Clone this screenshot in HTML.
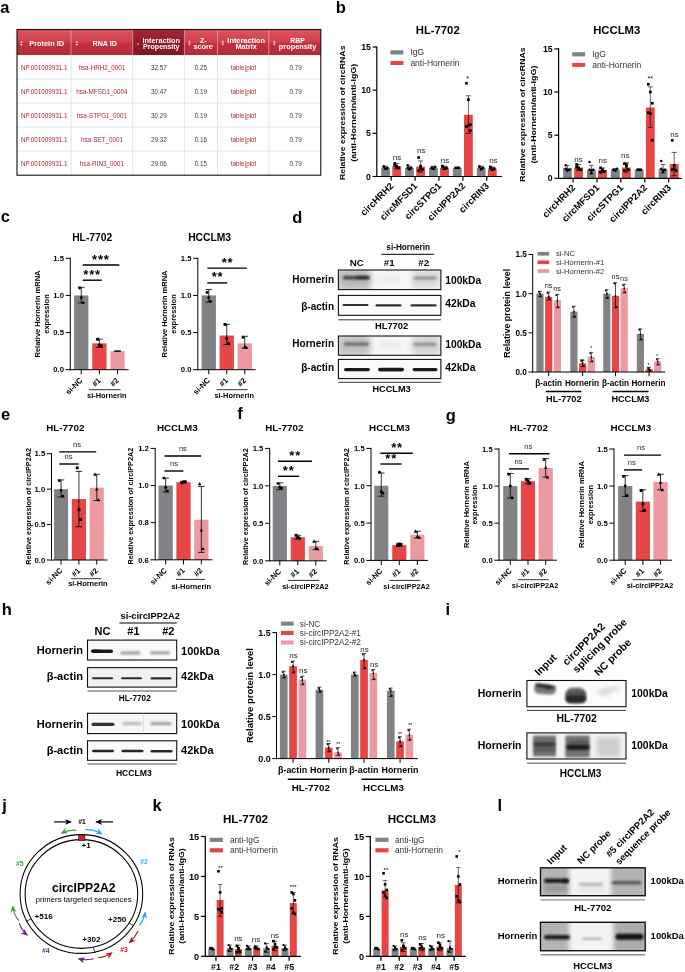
<!DOCTYPE html>
<html lang="en"><head><meta charset="utf-8"><title>Figure</title>
<style>
html,body{margin:0;padding:0;background:#fff}
svg{display:block;font-family:"Liberation Sans",sans-serif}
</style></head>
<body>
<svg width="685" height="972" viewBox="0 0 685 972">
<rect width="685" height="972" fill="#fff"/>
<defs><filter id="b05" x="-20%" y="-100%" width="140%" height="300%"><feGaussianBlur stdDeviation="0.55"/></filter><filter id="b1" x="-30%" y="-100%" width="160%" height="300%"><feGaussianBlur stdDeviation="1.0"/></filter><filter id="b2" x="-40%" y="-100%" width="180%" height="300%"><feGaussianBlur stdDeviation="2.0"/></filter><filter id="b3" x="-50%" y="-100%" width="200%" height="300%"><feGaussianBlur stdDeviation="3.2"/></filter></defs>
<text x="0.20" y="12.60" font-size="16.5" font-weight="bold">a</text>
<defs><linearGradient id="hg" x1="0" y1="0" x2="0" y2="1"><stop offset="0" stop-color="#dc5660"/><stop offset="0.5" stop-color="#cf3f4b"/><stop offset="0.52" stop-color="#c23240"/><stop offset="1" stop-color="#b52a38"/></linearGradient><linearGradient id="hg2" x1="0" y1="0" x2="0" y2="1"><stop offset="0" stop-color="#a32633"/><stop offset="0.5" stop-color="#8f1d29"/><stop offset="1" stop-color="#7f1622"/></linearGradient></defs>
<rect x="17.00" y="29.50" width="303.80" height="25.70" fill="url(#hg)"/>
<rect x="132.70" y="29.50" width="51.70" height="25.70" fill="url(#hg2)"/>
<rect x="17.00" y="55.20" width="303.80" height="120.00" fill="#fff"/>
<line x1="71.00" y1="29.50" x2="71.00" y2="55.20" stroke="#e9a1a7" stroke-width="0.8"/>
<line x1="71.00" y1="55.20" x2="71.00" y2="175.20" stroke="#d3dfea" stroke-width="0.8"/>
<line x1="132.70" y1="29.50" x2="132.70" y2="55.20" stroke="#e9a1a7" stroke-width="0.8"/>
<line x1="132.70" y1="55.20" x2="132.70" y2="175.20" stroke="#d3dfea" stroke-width="0.8"/>
<line x1="184.40" y1="29.50" x2="184.40" y2="55.20" stroke="#e9a1a7" stroke-width="0.8"/>
<line x1="184.40" y1="55.20" x2="184.40" y2="175.20" stroke="#d3dfea" stroke-width="0.8"/>
<line x1="217.50" y1="29.50" x2="217.50" y2="55.20" stroke="#e9a1a7" stroke-width="0.8"/>
<line x1="217.50" y1="55.20" x2="217.50" y2="175.20" stroke="#d3dfea" stroke-width="0.8"/>
<line x1="268.80" y1="29.50" x2="268.80" y2="55.20" stroke="#e9a1a7" stroke-width="0.8"/>
<line x1="268.80" y1="55.20" x2="268.80" y2="175.20" stroke="#d3dfea" stroke-width="0.8"/>
<line x1="17.00" y1="79.20" x2="320.80" y2="79.20" stroke="#d3dfea" stroke-width="0.8"/>
<line x1="17.00" y1="103.20" x2="320.80" y2="103.20" stroke="#d3dfea" stroke-width="0.8"/>
<line x1="17.00" y1="127.20" x2="320.80" y2="127.20" stroke="#d3dfea" stroke-width="0.8"/>
<line x1="17.00" y1="151.20" x2="320.80" y2="151.20" stroke="#d3dfea" stroke-width="0.8"/>
<rect x="17" y="29.5" width="303.8" height="145.70" fill="none" stroke="#111" stroke-width="1.1"/>
<path d="M20.00 43.10L22.80 43.10L21.40 41.10zM20.00 44.10L22.80 44.10L21.40 46.10z" fill="#f6d5d8"/>
<text x="46.70" y="46.00" font-size="7" font-weight="bold" text-anchor="middle" fill="#fff" textLength="34.70" lengthAdjust="spacingAndGlyphs">Protein ID</text>
<path d="M75.40 43.10L78.20 43.10L76.80 41.10zM75.40 44.10L78.20 44.10L76.80 46.10z" fill="#f6d5d8"/>
<text x="104.70" y="46.00" font-size="7" font-weight="bold" text-anchor="middle" fill="#fff" textLength="24.30" lengthAdjust="spacingAndGlyphs">RNA ID</text>
<path d="M136.9 44.6L138.9 44.6L137.9 42.8z" fill="#f6d5d8"/>
<text x="161.30" y="42.50" font-size="7" font-weight="bold" text-anchor="middle" fill="#fff" textLength="37.70" lengthAdjust="spacingAndGlyphs">Interaction</text>
<text x="161.30" y="48.90" font-size="7" font-weight="bold" text-anchor="middle" fill="#fff" textLength="36.50" lengthAdjust="spacingAndGlyphs">Propensity</text>
<path d="M188.00 42.50L190.80 42.50L189.40 40.50zM188.00 43.50L190.80 43.50L189.40 45.50z" fill="#f6d5d8"/>
<text x="203.20" y="42.50" font-size="7" font-weight="bold" text-anchor="middle" fill="#fff">Z-</text>
<text x="203.20" y="48.90" font-size="7" font-weight="bold" text-anchor="middle" fill="#fff" textLength="19.40" lengthAdjust="spacingAndGlyphs">score</text>
<path d="M221.40 42.50L224.20 42.50L222.80 40.50zM221.40 43.50L224.20 43.50L222.80 45.50z" fill="#f6d5d8"/>
<text x="246.20" y="42.50" font-size="7" font-weight="bold" text-anchor="middle" fill="#fff" textLength="37.70" lengthAdjust="spacingAndGlyphs">Interaction</text>
<text x="246.20" y="48.90" font-size="7" font-weight="bold" text-anchor="middle" fill="#fff" textLength="21.50" lengthAdjust="spacingAndGlyphs">Matrix</text>
<path d="M272.90 42.50L275.70 42.50L274.30 40.50zM272.90 43.50L275.70 43.50L274.30 45.50z" fill="#f6d5d8"/>
<text x="297.60" y="42.50" font-size="7" font-weight="bold" text-anchor="middle" fill="#fff" textLength="14.50" lengthAdjust="spacingAndGlyphs">RBP</text>
<text x="297.60" y="48.90" font-size="7" font-weight="bold" text-anchor="middle" fill="#fff" textLength="37.50" lengthAdjust="spacingAndGlyphs">propensity</text>
<text x="44.20" y="69.60" font-size="6.3" text-anchor="middle" fill="#a32a38">NP.001009931.1</text>
<text x="101.90" y="69.60" font-size="6.3" text-anchor="middle" fill="#a32a38">hsa-HRH2_0001</text>
<text x="158.80" y="69.60" font-size="6.3" text-anchor="middle" fill="#3c3c3c">32.57</text>
<text x="201.00" y="69.60" font-size="6.3" text-anchor="middle" fill="#3c3c3c">0.25</text>
<text x="243.60" y="69.60" font-size="6.3" text-anchor="middle" fill="#a32a38">table|plot</text>
<text x="295.60" y="69.60" font-size="6.3" text-anchor="middle" fill="#3c3c3c">0.79</text>
<text x="44.20" y="93.60" font-size="6.3" text-anchor="middle" fill="#a32a38">NP.001009931.1</text>
<text x="101.90" y="93.60" font-size="6.3" text-anchor="middle" fill="#a32a38">hsa-MFSD1_0004</text>
<text x="158.80" y="93.60" font-size="6.3" text-anchor="middle" fill="#3c3c3c">30.47</text>
<text x="201.00" y="93.60" font-size="6.3" text-anchor="middle" fill="#3c3c3c">0.19</text>
<text x="243.60" y="93.60" font-size="6.3" text-anchor="middle" fill="#a32a38">table|plot</text>
<text x="295.60" y="93.60" font-size="6.3" text-anchor="middle" fill="#3c3c3c">0.79</text>
<text x="44.20" y="117.60" font-size="6.3" text-anchor="middle" fill="#a32a38">NP.001009931.1</text>
<text x="101.90" y="117.60" font-size="6.3" text-anchor="middle" fill="#a32a38">hsa-STPG1_0001</text>
<text x="158.80" y="117.60" font-size="6.3" text-anchor="middle" fill="#3c3c3c">30.29</text>
<text x="201.00" y="117.60" font-size="6.3" text-anchor="middle" fill="#3c3c3c">0.19</text>
<text x="243.60" y="117.60" font-size="6.3" text-anchor="middle" fill="#a32a38">table|plot</text>
<text x="295.60" y="117.60" font-size="6.3" text-anchor="middle" fill="#3c3c3c">0.79</text>
<text x="44.20" y="141.60" font-size="6.3" text-anchor="middle" fill="#a32a38">NP.001009931.1</text>
<text x="101.90" y="141.60" font-size="6.3" text-anchor="middle" fill="#a32a38">hsa-SET_0001</text>
<text x="158.80" y="141.60" font-size="6.3" text-anchor="middle" fill="#3c3c3c">29.32</text>
<text x="201.00" y="141.60" font-size="6.3" text-anchor="middle" fill="#3c3c3c">0.16</text>
<text x="243.60" y="141.60" font-size="6.3" text-anchor="middle" fill="#a32a38">table|plot</text>
<text x="295.60" y="141.60" font-size="6.3" text-anchor="middle" fill="#3c3c3c">0.79</text>
<text x="44.20" y="165.60" font-size="6.3" text-anchor="middle" fill="#a32a38">NP.001009931.1</text>
<text x="101.90" y="165.60" font-size="6.3" text-anchor="middle" fill="#a32a38">hsa-RIN3_0001</text>
<text x="158.80" y="165.60" font-size="6.3" text-anchor="middle" fill="#3c3c3c">29.06</text>
<text x="201.00" y="165.60" font-size="6.3" text-anchor="middle" fill="#3c3c3c">0.15</text>
<text x="243.60" y="165.60" font-size="6.3" text-anchor="middle" fill="#a32a38">table|plot</text>
<text x="295.60" y="165.60" font-size="6.3" text-anchor="middle" fill="#3c3c3c">0.79</text>
<text x="335.80" y="13.20" font-size="16.5" font-weight="bold">b</text>
<text x="437.70" y="33.60" font-size="11.3" font-weight="bold" text-anchor="middle">HL-7702</text>
<rect x="381.20" y="167.87" width="8.80" height="8.63" fill="#808285"/>
<rect x="392.30" y="166.14" width="8.80" height="10.36" fill="#e64646"/>
<rect x="405.10" y="167.87" width="8.80" height="8.63" fill="#808285"/>
<rect x="416.20" y="166.57" width="8.80" height="9.93" fill="#e64646"/>
<rect x="429.00" y="167.87" width="8.80" height="8.63" fill="#808285"/>
<rect x="440.10" y="167.87" width="8.80" height="8.63" fill="#e64646"/>
<rect x="452.90" y="167.87" width="8.80" height="8.63" fill="#808285"/>
<rect x="464.00" y="114.77" width="8.80" height="61.73" fill="#e64646"/>
<rect x="476.80" y="167.87" width="8.80" height="8.63" fill="#808285"/>
<rect x="487.90" y="168.73" width="8.80" height="7.77" fill="#e64646"/>
<line x1="385.60" y1="169.59" x2="385.60" y2="166.14" stroke="#000" stroke-width="0.6"/>
<line x1="383.40" y1="166.14" x2="387.80" y2="166.14" stroke="#000" stroke-width="0.6"/>
<line x1="383.40" y1="169.59" x2="387.80" y2="169.59" stroke="#000" stroke-width="0.6"/>
<line x1="396.70" y1="168.73" x2="396.70" y2="163.55" stroke="#000" stroke-width="0.6"/>
<line x1="394.10" y1="163.55" x2="399.30" y2="163.55" stroke="#000" stroke-width="0.6"/>
<line x1="394.10" y1="168.73" x2="399.30" y2="168.73" stroke="#000" stroke-width="0.6"/>
<circle cx="383.78" cy="166.14" r="1.25"/>
<circle cx="385.60" cy="168.73" r="1.25"/>
<circle cx="387.42" cy="167.87" r="1.25"/>
<circle cx="383.78" cy="167.00" r="1.25"/>
<circle cx="385.60" cy="168.73" r="1.25"/>
<rect x="393.39" y="162.20" width="2.7" height="2.7"/>
<rect x="395.35" y="164.79" width="2.7" height="2.7"/>
<rect x="397.31" y="166.52" width="2.7" height="2.7"/>
<rect x="393.39" y="163.93" width="2.7" height="2.7"/>
<rect x="395.35" y="165.65" width="2.7" height="2.7"/>
<line x1="409.50" y1="169.59" x2="409.50" y2="166.14" stroke="#000" stroke-width="0.6"/>
<line x1="407.30" y1="166.14" x2="411.70" y2="166.14" stroke="#000" stroke-width="0.6"/>
<line x1="407.30" y1="169.59" x2="411.70" y2="169.59" stroke="#000" stroke-width="0.6"/>
<line x1="420.60" y1="172.18" x2="420.60" y2="160.96" stroke="#000" stroke-width="0.6"/>
<line x1="418.00" y1="160.96" x2="423.20" y2="160.96" stroke="#000" stroke-width="0.6"/>
<line x1="418.00" y1="172.18" x2="423.20" y2="172.18" stroke="#000" stroke-width="0.6"/>
<circle cx="407.68" cy="165.28" r="1.25"/>
<circle cx="409.50" cy="168.73" r="1.25"/>
<circle cx="411.32" cy="167.87" r="1.25"/>
<circle cx="407.68" cy="167.87" r="1.25"/>
<circle cx="409.50" cy="169.59" r="1.25"/>
<rect x="417.29" y="156.16" width="2.7" height="2.7"/>
<rect x="419.25" y="164.79" width="2.7" height="2.7"/>
<rect x="421.21" y="168.24" width="2.7" height="2.7"/>
<rect x="417.29" y="169.11" width="2.7" height="2.7"/>
<rect x="419.25" y="166.52" width="2.7" height="2.7"/>
<line x1="433.40" y1="169.59" x2="433.40" y2="166.14" stroke="#000" stroke-width="0.6"/>
<line x1="431.20" y1="166.14" x2="435.60" y2="166.14" stroke="#000" stroke-width="0.6"/>
<line x1="431.20" y1="169.59" x2="435.60" y2="169.59" stroke="#000" stroke-width="0.6"/>
<line x1="444.50" y1="169.59" x2="444.50" y2="166.14" stroke="#000" stroke-width="0.6"/>
<line x1="441.90" y1="166.14" x2="447.10" y2="166.14" stroke="#000" stroke-width="0.6"/>
<line x1="441.90" y1="169.59" x2="447.10" y2="169.59" stroke="#000" stroke-width="0.6"/>
<circle cx="431.58" cy="167.87" r="1.25"/>
<circle cx="433.40" cy="168.73" r="1.25"/>
<circle cx="435.22" cy="167.00" r="1.25"/>
<circle cx="431.58" cy="167.87" r="1.25"/>
<rect x="441.19" y="164.79" width="2.7" height="2.7"/>
<rect x="443.15" y="167.38" width="2.7" height="2.7"/>
<rect x="445.11" y="166.52" width="2.7" height="2.7"/>
<rect x="441.19" y="165.65" width="2.7" height="2.7"/>
<line x1="457.30" y1="168.56" x2="457.30" y2="167.18" stroke="#000" stroke-width="0.6"/>
<line x1="455.10" y1="167.18" x2="459.50" y2="167.18" stroke="#000" stroke-width="0.6"/>
<line x1="455.10" y1="168.56" x2="459.50" y2="168.56" stroke="#000" stroke-width="0.6"/>
<line x1="468.40" y1="133.33" x2="468.40" y2="95.78" stroke="#000" stroke-width="0.6"/>
<line x1="465.80" y1="95.78" x2="471.00" y2="95.78" stroke="#000" stroke-width="0.6"/>
<line x1="465.80" y1="133.33" x2="471.00" y2="133.33" stroke="#000" stroke-width="0.6"/>
<circle cx="455.48" cy="167.87" r="1.25"/>
<circle cx="457.30" cy="167.87" r="1.25"/>
<circle cx="459.12" cy="167.87" r="1.25"/>
<rect x="465.09" y="81.91" width="2.7" height="2.7"/>
<rect x="467.05" y="98.31" width="2.7" height="2.7"/>
<rect x="469.01" y="123.35" width="2.7" height="2.7"/>
<rect x="465.09" y="125.08" width="2.7" height="2.7"/>
<rect x="467.05" y="124.21" width="2.7" height="2.7"/>
<rect x="469.01" y="129.39" width="2.7" height="2.7"/>
<line x1="481.20" y1="169.59" x2="481.20" y2="166.14" stroke="#000" stroke-width="0.6"/>
<line x1="479.00" y1="166.14" x2="483.40" y2="166.14" stroke="#000" stroke-width="0.6"/>
<line x1="479.00" y1="169.59" x2="483.40" y2="169.59" stroke="#000" stroke-width="0.6"/>
<line x1="492.30" y1="170.46" x2="492.30" y2="167.00" stroke="#000" stroke-width="0.6"/>
<line x1="489.70" y1="167.00" x2="494.90" y2="167.00" stroke="#000" stroke-width="0.6"/>
<line x1="489.70" y1="170.46" x2="494.90" y2="170.46" stroke="#000" stroke-width="0.6"/>
<circle cx="479.38" cy="166.14" r="1.25"/>
<circle cx="481.20" cy="169.59" r="1.25"/>
<circle cx="483.02" cy="167.87" r="1.25"/>
<circle cx="479.38" cy="167.00" r="1.25"/>
<circle cx="481.20" cy="168.73" r="1.25"/>
<rect x="488.99" y="166.52" width="2.7" height="2.7"/>
<rect x="490.95" y="168.24" width="2.7" height="2.7"/>
<rect x="492.91" y="167.38" width="2.7" height="2.7"/>
<rect x="488.99" y="165.65" width="2.7" height="2.7"/>
<line x1="376.80" y1="46.40" x2="376.80" y2="177.10" stroke="#000" stroke-width="1.2"/>
<line x1="376.20" y1="176.50" x2="502.00" y2="176.50" stroke="#000" stroke-width="1.2"/>
<line x1="372.60" y1="47.00" x2="376.80" y2="47.00" stroke="#000" stroke-width="1.2"/>
<text x="370.90" y="50.13" font-size="8.7" font-weight="bold" text-anchor="end">15</text>
<line x1="372.60" y1="90.17" x2="376.80" y2="90.17" stroke="#000" stroke-width="1.2"/>
<text x="370.90" y="93.30" font-size="8.7" font-weight="bold" text-anchor="end">10</text>
<line x1="372.60" y1="133.33" x2="376.80" y2="133.33" stroke="#000" stroke-width="1.2"/>
<text x="370.90" y="136.47" font-size="8.7" font-weight="bold" text-anchor="end">5</text>
<line x1="372.60" y1="176.50" x2="376.80" y2="176.50" stroke="#000" stroke-width="1.2"/>
<text x="370.90" y="179.63" font-size="8.7" font-weight="bold" text-anchor="end">0</text>
<line x1="391.15" y1="176.50" x2="391.15" y2="180.70" stroke="#000" stroke-width="1.2"/>
<line x1="415.05" y1="176.50" x2="415.05" y2="180.70" stroke="#000" stroke-width="1.2"/>
<line x1="438.95" y1="176.50" x2="438.95" y2="180.70" stroke="#000" stroke-width="1.2"/>
<line x1="462.85" y1="176.50" x2="462.85" y2="180.70" stroke="#000" stroke-width="1.2"/>
<line x1="486.75" y1="176.50" x2="486.75" y2="180.70" stroke="#000" stroke-width="1.2"/>
<text x="394.15" y="186.50" font-size="9.4" font-weight="bold" text-anchor="end" transform="rotate(-45 394.15 186.50)">circHRH2</text>
<text x="418.05" y="186.50" font-size="9.4" font-weight="bold" text-anchor="end" transform="rotate(-45 418.05 186.50)">circMFSD1</text>
<text x="441.95" y="186.50" font-size="9.4" font-weight="bold" text-anchor="end" transform="rotate(-45 441.95 186.50)">circSTPG1</text>
<text x="465.85" y="186.50" font-size="9.4" font-weight="bold" text-anchor="end" transform="rotate(-45 465.85 186.50)">circIPP2A2</text>
<text x="489.75" y="186.50" font-size="9.4" font-weight="bold" text-anchor="end" transform="rotate(-45 489.75 186.50)">circRIN3</text>
<text x="397.00" y="160.00" font-size="8.0" text-anchor="middle" fill="#262626">ns</text>
<text x="421.20" y="153.30" font-size="8.0" text-anchor="middle" fill="#262626">ns</text>
<text x="445.00" y="162.50" font-size="8.0" text-anchor="middle" fill="#262626">ns</text>
<text x="493.40" y="163.00" font-size="8.0" text-anchor="middle" fill="#262626">ns</text>
<text x="467.50" y="80.50" font-size="7" text-anchor="middle">*</text>
<text x="345.30" y="112.75" font-size="7.7" font-weight="bold" text-anchor="middle" transform="rotate(-90 345.30 112.75)" textLength="134.50" lengthAdjust="spacingAndGlyphs">Relative expression of circRNAs</text>
<text x="356.20" y="112.75" font-size="7.7" font-weight="bold" text-anchor="middle" transform="rotate(-90 356.20 112.75)" textLength="98.00" lengthAdjust="spacingAndGlyphs">(anti-Hornerin/anti-IgG)</text>
<rect x="390.40" y="50.30" width="13.00" height="4.20" fill="#808285"/>
<rect x="390.40" y="61.00" width="13.00" height="4.00" fill="#e64646"/>
<text x="410.40" y="55.20" font-size="8.5" fill="#333">IgG</text>
<text x="410.40" y="65.80" font-size="8.5" fill="#333">anti-Hornerin</text>
<text x="616.70" y="33.60" font-size="11.3" font-weight="bold" text-anchor="middle">HCCLM3</text>
<rect x="563.10" y="167.95" width="8.80" height="10.35" fill="#808285"/>
<rect x="574.20" y="167.52" width="8.80" height="10.78" fill="#e64646"/>
<rect x="587.00" y="169.67" width="8.80" height="8.63" fill="#808285"/>
<rect x="598.10" y="170.10" width="8.80" height="8.20" fill="#e64646"/>
<rect x="610.90" y="169.67" width="8.80" height="8.63" fill="#808285"/>
<rect x="622.00" y="167.52" width="8.80" height="10.78" fill="#e64646"/>
<rect x="634.80" y="169.67" width="8.80" height="8.63" fill="#808285"/>
<rect x="645.90" y="107.56" width="8.80" height="70.74" fill="#e64646"/>
<rect x="658.70" y="168.81" width="8.80" height="9.49" fill="#808285"/>
<rect x="669.80" y="164.07" width="8.80" height="14.23" fill="#e64646"/>
<line x1="567.50" y1="170.54" x2="567.50" y2="165.36" stroke="#000" stroke-width="0.6"/>
<line x1="565.30" y1="165.36" x2="569.70" y2="165.36" stroke="#000" stroke-width="0.6"/>
<line x1="565.30" y1="170.54" x2="569.70" y2="170.54" stroke="#000" stroke-width="0.6"/>
<line x1="578.60" y1="170.54" x2="578.60" y2="164.50" stroke="#000" stroke-width="0.6"/>
<line x1="576.00" y1="164.50" x2="581.20" y2="164.50" stroke="#000" stroke-width="0.6"/>
<line x1="576.00" y1="170.54" x2="581.20" y2="170.54" stroke="#000" stroke-width="0.6"/>
<circle cx="565.68" cy="165.36" r="1.25"/>
<circle cx="567.50" cy="170.54" r="1.25"/>
<circle cx="569.32" cy="169.67" r="1.25"/>
<circle cx="565.68" cy="168.81" r="1.25"/>
<circle cx="567.50" cy="170.54" r="1.25"/>
<rect x="575.29" y="163.15" width="2.7" height="2.7"/>
<rect x="577.25" y="166.60" width="2.7" height="2.7"/>
<rect x="579.21" y="168.32" width="2.7" height="2.7"/>
<rect x="575.29" y="165.74" width="2.7" height="2.7"/>
<rect x="577.25" y="167.46" width="2.7" height="2.7"/>
<line x1="591.40" y1="173.99" x2="591.40" y2="165.36" stroke="#000" stroke-width="0.6"/>
<line x1="589.20" y1="165.36" x2="593.60" y2="165.36" stroke="#000" stroke-width="0.6"/>
<line x1="589.20" y1="173.99" x2="593.60" y2="173.99" stroke="#000" stroke-width="0.6"/>
<line x1="602.50" y1="172.26" x2="602.50" y2="167.95" stroke="#000" stroke-width="0.6"/>
<line x1="599.90" y1="167.95" x2="605.10" y2="167.95" stroke="#000" stroke-width="0.6"/>
<line x1="599.90" y1="172.26" x2="605.10" y2="172.26" stroke="#000" stroke-width="0.6"/>
<circle cx="589.58" cy="161.91" r="1.25"/>
<circle cx="591.40" cy="170.54" r="1.25"/>
<circle cx="593.22" cy="169.67" r="1.25"/>
<circle cx="589.58" cy="169.67" r="1.25"/>
<circle cx="591.40" cy="173.12" r="1.25"/>
<rect x="599.19" y="166.60" width="2.7" height="2.7"/>
<rect x="601.15" y="169.19" width="2.7" height="2.7"/>
<rect x="603.11" y="170.05" width="2.7" height="2.7"/>
<rect x="599.19" y="170.91" width="2.7" height="2.7"/>
<rect x="601.15" y="168.32" width="2.7" height="2.7"/>
<line x1="615.30" y1="170.97" x2="615.30" y2="168.38" stroke="#000" stroke-width="0.6"/>
<line x1="613.10" y1="168.38" x2="617.50" y2="168.38" stroke="#000" stroke-width="0.6"/>
<line x1="613.10" y1="170.97" x2="617.50" y2="170.97" stroke="#000" stroke-width="0.6"/>
<line x1="626.40" y1="172.26" x2="626.40" y2="162.77" stroke="#000" stroke-width="0.6"/>
<line x1="623.80" y1="162.77" x2="629.00" y2="162.77" stroke="#000" stroke-width="0.6"/>
<line x1="623.80" y1="172.26" x2="629.00" y2="172.26" stroke="#000" stroke-width="0.6"/>
<circle cx="613.48" cy="169.67" r="1.25"/>
<circle cx="615.30" cy="170.54" r="1.25"/>
<circle cx="617.12" cy="168.81" r="1.25"/>
<circle cx="613.48" cy="169.67" r="1.25"/>
<rect x="623.09" y="162.28" width="2.7" height="2.7"/>
<rect x="625.05" y="164.87" width="2.7" height="2.7"/>
<rect x="627.01" y="168.32" width="2.7" height="2.7"/>
<rect x="623.09" y="169.19" width="2.7" height="2.7"/>
<rect x="625.05" y="163.15" width="2.7" height="2.7"/>
<line x1="639.20" y1="170.54" x2="639.20" y2="168.81" stroke="#000" stroke-width="0.6"/>
<line x1="637.00" y1="168.81" x2="641.40" y2="168.81" stroke="#000" stroke-width="0.6"/>
<line x1="637.00" y1="170.54" x2="641.40" y2="170.54" stroke="#000" stroke-width="0.6"/>
<line x1="650.30" y1="127.40" x2="650.30" y2="86.86" stroke="#000" stroke-width="0.6"/>
<line x1="647.70" y1="86.86" x2="652.90" y2="86.86" stroke="#000" stroke-width="0.6"/>
<line x1="647.70" y1="127.40" x2="652.90" y2="127.40" stroke="#000" stroke-width="0.6"/>
<circle cx="637.38" cy="169.67" r="1.25"/>
<circle cx="639.20" cy="169.67" r="1.25"/>
<circle cx="641.02" cy="169.67" r="1.25"/>
<rect x="646.99" y="82.92" width="2.7" height="2.7"/>
<rect x="648.95" y="90.68" width="2.7" height="2.7"/>
<rect x="650.91" y="101.90" width="2.7" height="2.7"/>
<rect x="646.99" y="111.39" width="2.7" height="2.7"/>
<rect x="648.95" y="112.25" width="2.7" height="2.7"/>
<rect x="650.91" y="138.99" width="2.7" height="2.7"/>
<line x1="663.10" y1="173.12" x2="663.10" y2="164.50" stroke="#000" stroke-width="0.6"/>
<line x1="660.90" y1="164.50" x2="665.30" y2="164.50" stroke="#000" stroke-width="0.6"/>
<line x1="660.90" y1="173.12" x2="665.30" y2="173.12" stroke="#000" stroke-width="0.6"/>
<line x1="674.20" y1="175.71" x2="674.20" y2="152.42" stroke="#000" stroke-width="0.6"/>
<line x1="671.60" y1="152.42" x2="676.80" y2="152.42" stroke="#000" stroke-width="0.6"/>
<line x1="671.60" y1="175.71" x2="676.80" y2="175.71" stroke="#000" stroke-width="0.6"/>
<circle cx="661.28" cy="161.05" r="1.25"/>
<circle cx="663.10" cy="171.40" r="1.25"/>
<circle cx="664.92" cy="169.67" r="1.25"/>
<circle cx="661.28" cy="168.81" r="1.25"/>
<circle cx="663.10" cy="170.54" r="1.25"/>
<rect x="670.89" y="138.99" width="2.7" height="2.7"/>
<rect x="672.85" y="164.01" width="2.7" height="2.7"/>
<rect x="674.81" y="169.19" width="2.7" height="2.7"/>
<rect x="670.89" y="168.32" width="2.7" height="2.7"/>
<rect x="672.85" y="167.46" width="2.7" height="2.7"/>
<line x1="558.60" y1="48.30" x2="558.60" y2="178.90" stroke="#000" stroke-width="1.2"/>
<line x1="558.00" y1="178.30" x2="681.60" y2="178.30" stroke="#000" stroke-width="1.2"/>
<line x1="554.40" y1="48.90" x2="558.60" y2="48.90" stroke="#000" stroke-width="1.2"/>
<text x="552.70" y="52.03" font-size="8.7" font-weight="bold" text-anchor="end">15</text>
<line x1="554.40" y1="92.03" x2="558.60" y2="92.03" stroke="#000" stroke-width="1.2"/>
<text x="552.70" y="95.17" font-size="8.7" font-weight="bold" text-anchor="end">10</text>
<line x1="554.40" y1="135.17" x2="558.60" y2="135.17" stroke="#000" stroke-width="1.2"/>
<text x="552.70" y="138.30" font-size="8.7" font-weight="bold" text-anchor="end">5</text>
<line x1="554.40" y1="178.30" x2="558.60" y2="178.30" stroke="#000" stroke-width="1.2"/>
<text x="552.70" y="181.43" font-size="8.7" font-weight="bold" text-anchor="end">0</text>
<line x1="573.05" y1="178.30" x2="573.05" y2="182.50" stroke="#000" stroke-width="1.2"/>
<line x1="596.95" y1="178.30" x2="596.95" y2="182.50" stroke="#000" stroke-width="1.2"/>
<line x1="620.85" y1="178.30" x2="620.85" y2="182.50" stroke="#000" stroke-width="1.2"/>
<line x1="644.75" y1="178.30" x2="644.75" y2="182.50" stroke="#000" stroke-width="1.2"/>
<line x1="668.65" y1="178.30" x2="668.65" y2="182.50" stroke="#000" stroke-width="1.2"/>
<text x="576.05" y="188.30" font-size="9.4" font-weight="bold" text-anchor="end" transform="rotate(-45 576.05 188.30)">circHRH2</text>
<text x="599.95" y="188.30" font-size="9.4" font-weight="bold" text-anchor="end" transform="rotate(-45 599.95 188.30)">circMFSD1</text>
<text x="623.85" y="188.30" font-size="9.4" font-weight="bold" text-anchor="end" transform="rotate(-45 623.85 188.30)">circSTPG1</text>
<text x="647.75" y="188.30" font-size="9.4" font-weight="bold" text-anchor="end" transform="rotate(-45 647.75 188.30)">circIPP2A2</text>
<text x="671.65" y="188.30" font-size="9.4" font-weight="bold" text-anchor="end" transform="rotate(-45 671.65 188.30)">circRIN3</text>
<text x="578.60" y="161.70" font-size="8.0" text-anchor="middle" fill="#262626">ns</text>
<text x="602.70" y="163.00" font-size="8.0" text-anchor="middle" fill="#262626">ns</text>
<text x="625.30" y="158.30" font-size="8.0" text-anchor="middle" fill="#262626">ns</text>
<text x="674.50" y="136.80" font-size="8.0" text-anchor="middle" fill="#262626">ns</text>
<text x="650.30" y="80.50" font-size="7" text-anchor="middle">**</text>
<text x="525.30" y="114.60" font-size="7.7" font-weight="bold" text-anchor="middle" transform="rotate(-90 525.30 114.60)" textLength="134.50" lengthAdjust="spacingAndGlyphs">Relative expression of circRNAs</text>
<text x="536.20" y="114.60" font-size="7.7" font-weight="bold" text-anchor="middle" transform="rotate(-90 536.20 114.60)" textLength="98.00" lengthAdjust="spacingAndGlyphs">(anti-Hornerin/anti-IgG)</text>
<rect x="572.20" y="52.20" width="13.00" height="4.20" fill="#808285"/>
<rect x="572.20" y="62.90" width="13.00" height="4.00" fill="#e64646"/>
<text x="592.20" y="57.10" font-size="8.5" fill="#333">IgG</text>
<text x="592.20" y="67.70" font-size="8.5" fill="#333">anti-Hornerin</text>
<text x="0.80" y="222.00" font-size="16.5" font-weight="bold">c</text>
<text x="92.20" y="241.40" font-size="10.3" font-weight="bold" text-anchor="middle">HL-7702</text>
<rect x="74.10" y="295.43" width="14.30" height="74.27" fill="#808285"/>
<rect x="92.25" y="343.34" width="14.30" height="26.36" fill="#e64646"/>
<rect x="110.40" y="351.13" width="14.30" height="18.57" fill="#ec99a0"/>
<line x1="81.25" y1="302.86" x2="81.25" y2="287.26" stroke="#000" stroke-width="0.8"/>
<line x1="77.95" y1="287.26" x2="84.55" y2="287.26" stroke="#000" stroke-width="0.8"/>
<line x1="77.95" y1="302.86" x2="84.55" y2="302.86" stroke="#000" stroke-width="0.8"/>
<circle cx="79.57" cy="288.01" r="1.45"/>
<circle cx="81.25" cy="297.66" r="1.45"/>
<circle cx="82.93" cy="302.86" r="1.45"/>
<line x1="99.40" y1="347.42" x2="99.40" y2="339.25" stroke="#000" stroke-width="0.8"/>
<line x1="96.10" y1="339.25" x2="102.70" y2="339.25" stroke="#000" stroke-width="0.8"/>
<line x1="96.10" y1="347.42" x2="102.70" y2="347.42" stroke="#000" stroke-width="0.8"/>
<rect x="96.27" y="337.80" width="2.9" height="2.9"/>
<rect x="97.95" y="343.74" width="2.9" height="2.9"/>
<rect x="99.63" y="344.48" width="2.9" height="2.9"/>
<line x1="117.55" y1="351.50" x2="117.55" y2="350.76" stroke="#000" stroke-width="0.8"/>
<line x1="114.25" y1="350.76" x2="120.85" y2="350.76" stroke="#000" stroke-width="0.8"/>
<line x1="114.25" y1="351.50" x2="120.85" y2="351.50" stroke="#000" stroke-width="0.8"/>
<line x1="70.30" y1="257.80" x2="70.30" y2="370.20" stroke="#000" stroke-width="1.0"/>
<line x1="69.80" y1="369.70" x2="128.60" y2="369.70" stroke="#000" stroke-width="1.0"/>
<line x1="65.70" y1="258.30" x2="70.30" y2="258.30" stroke="#000" stroke-width="1.0"/>
<text x="64.00" y="261.07" font-size="7.7" font-weight="bold" text-anchor="end">1.5</text>
<line x1="65.70" y1="295.43" x2="70.30" y2="295.43" stroke="#000" stroke-width="1.0"/>
<text x="64.00" y="298.21" font-size="7.7" font-weight="bold" text-anchor="end">1.0</text>
<line x1="65.70" y1="332.57" x2="70.30" y2="332.57" stroke="#000" stroke-width="1.0"/>
<text x="64.00" y="335.34" font-size="7.7" font-weight="bold" text-anchor="end">0.5</text>
<line x1="65.70" y1="369.70" x2="70.30" y2="369.70" stroke="#000" stroke-width="1.0"/>
<text x="64.00" y="372.47" font-size="7.7" font-weight="bold" text-anchor="end">0.0</text>
<line x1="81.25" y1="369.70" x2="81.25" y2="374.30" stroke="#000" stroke-width="1.0"/>
<line x1="99.40" y1="369.70" x2="99.40" y2="374.30" stroke="#000" stroke-width="1.0"/>
<line x1="117.55" y1="369.70" x2="117.55" y2="374.30" stroke="#000" stroke-width="1.0"/>
<text x="83.05" y="380.90" font-size="7.7" font-weight="bold" text-anchor="end" transform="rotate(-45 83.05 380.90)">si-NC</text>
<text x="101.20" y="380.90" font-size="7.7" font-weight="bold" text-anchor="end" transform="rotate(-45 101.20 380.90)">#1</text>
<text x="119.35" y="380.90" font-size="7.7" font-weight="bold" text-anchor="end" transform="rotate(-45 119.35 380.90)">#2</text>
<line x1="89.20" y1="389.70" x2="120.60" y2="389.70" stroke="#000" stroke-width="0.8"/>
<text x="106.80" y="398.00" font-size="7.4" font-weight="bold" text-anchor="middle" textLength="39.50" lengthAdjust="spacingAndGlyphs">si-Hornerin</text>
<text x="39.70" y="314.00" font-size="7.0" font-weight="bold" text-anchor="middle" transform="rotate(-90 39.70 314.00)" textLength="86.90" lengthAdjust="spacingAndGlyphs">Relative Hornerin mRNA</text>
<text x="48.70" y="314.00" font-size="7.0" font-weight="bold" text-anchor="middle" transform="rotate(-90 48.70 314.00)" textLength="39.50" lengthAdjust="spacingAndGlyphs">expression</text>
<line x1="82.70" y1="265.00" x2="119.30" y2="265.00" stroke="#000" stroke-width="1.4"/>
<text x="100.90" y="263.50" font-size="13.0" font-weight="bold" text-anchor="middle" letter-spacing="0.8">***</text>
<line x1="82.70" y1="280.20" x2="101.80" y2="280.20" stroke="#000" stroke-width="1.4"/>
<text x="92.10" y="278.60" font-size="13.0" font-weight="bold" text-anchor="middle" letter-spacing="0.8">***</text>
<text x="209.60" y="241.40" font-size="10.3" font-weight="bold" text-anchor="middle">HCCLM3</text>
<rect x="201.60" y="295.43" width="14.30" height="74.27" fill="#808285"/>
<rect x="219.60" y="335.54" width="14.30" height="34.16" fill="#e64646"/>
<rect x="237.60" y="343.34" width="14.30" height="26.36" fill="#ec99a0"/>
<line x1="208.75" y1="302.12" x2="208.75" y2="289.49" stroke="#000" stroke-width="0.8"/>
<line x1="205.45" y1="289.49" x2="212.05" y2="289.49" stroke="#000" stroke-width="0.8"/>
<line x1="205.45" y1="302.12" x2="212.05" y2="302.12" stroke="#000" stroke-width="0.8"/>
<circle cx="207.07" cy="292.46" r="1.45"/>
<circle cx="208.75" cy="297.66" r="1.45"/>
<circle cx="210.43" cy="301.37" r="1.45"/>
<line x1="226.75" y1="344.45" x2="226.75" y2="324.40" stroke="#000" stroke-width="0.8"/>
<line x1="223.45" y1="324.40" x2="230.05" y2="324.40" stroke="#000" stroke-width="0.8"/>
<line x1="223.45" y1="344.45" x2="230.05" y2="344.45" stroke="#000" stroke-width="0.8"/>
<rect x="223.62" y="322.95" width="2.9" height="2.9"/>
<rect x="225.30" y="337.06" width="2.9" height="2.9"/>
<rect x="226.98" y="342.26" width="2.9" height="2.9"/>
<line x1="244.75" y1="348.16" x2="244.75" y2="336.28" stroke="#000" stroke-width="0.8"/>
<line x1="241.45" y1="336.28" x2="248.05" y2="336.28" stroke="#000" stroke-width="0.8"/>
<line x1="241.45" y1="348.16" x2="248.05" y2="348.16" stroke="#000" stroke-width="0.8"/>
<path d="M241.33 338.47L244.81 338.47L243.07 335.28z"/>
<path d="M243.01 348.13L246.49 348.13L244.75 344.94z"/>
<path d="M244.69 348.87L248.17 348.87L246.43 345.68z"/>
<line x1="197.80" y1="257.80" x2="197.80" y2="370.20" stroke="#000" stroke-width="1.0"/>
<line x1="197.30" y1="369.70" x2="255.60" y2="369.70" stroke="#000" stroke-width="1.0"/>
<line x1="193.20" y1="258.30" x2="197.80" y2="258.30" stroke="#000" stroke-width="1.0"/>
<text x="191.50" y="261.07" font-size="7.7" font-weight="bold" text-anchor="end">1.5</text>
<line x1="193.20" y1="295.43" x2="197.80" y2="295.43" stroke="#000" stroke-width="1.0"/>
<text x="191.50" y="298.21" font-size="7.7" font-weight="bold" text-anchor="end">1.0</text>
<line x1="193.20" y1="332.57" x2="197.80" y2="332.57" stroke="#000" stroke-width="1.0"/>
<text x="191.50" y="335.34" font-size="7.7" font-weight="bold" text-anchor="end">0.5</text>
<line x1="193.20" y1="369.70" x2="197.80" y2="369.70" stroke="#000" stroke-width="1.0"/>
<text x="191.50" y="372.47" font-size="7.7" font-weight="bold" text-anchor="end">0.0</text>
<line x1="208.75" y1="369.70" x2="208.75" y2="374.30" stroke="#000" stroke-width="1.0"/>
<line x1="226.75" y1="369.70" x2="226.75" y2="374.30" stroke="#000" stroke-width="1.0"/>
<line x1="244.75" y1="369.70" x2="244.75" y2="374.30" stroke="#000" stroke-width="1.0"/>
<text x="210.55" y="380.90" font-size="7.7" font-weight="bold" text-anchor="end" transform="rotate(-45 210.55 380.90)">si-NC</text>
<text x="228.55" y="380.90" font-size="7.7" font-weight="bold" text-anchor="end" transform="rotate(-45 228.55 380.90)">#1</text>
<text x="246.55" y="380.90" font-size="7.7" font-weight="bold" text-anchor="end" transform="rotate(-45 246.55 380.90)">#2</text>
<line x1="216.60" y1="389.70" x2="247.50" y2="389.70" stroke="#000" stroke-width="0.8"/>
<text x="234.20" y="398.00" font-size="7.4" font-weight="bold" text-anchor="middle" textLength="39.50" lengthAdjust="spacingAndGlyphs">si-Hornerin</text>
<text x="167.10" y="314.00" font-size="7.0" font-weight="bold" text-anchor="middle" transform="rotate(-90 167.10 314.00)" textLength="86.90" lengthAdjust="spacingAndGlyphs">Relative Hornerin mRNA</text>
<text x="175.90" y="314.00" font-size="7.0" font-weight="bold" text-anchor="middle" transform="rotate(-90 175.90 314.00)" textLength="39.50" lengthAdjust="spacingAndGlyphs">expression</text>
<line x1="207.30" y1="268.10" x2="246.80" y2="268.10" stroke="#000" stroke-width="1.4"/>
<text x="227.60" y="266.80" font-size="13.0" font-weight="bold" text-anchor="middle" letter-spacing="0.8">**</text>
<line x1="207.30" y1="282.90" x2="227.20" y2="282.90" stroke="#000" stroke-width="1.4"/>
<text x="217.50" y="281.10" font-size="13.0" font-weight="bold" text-anchor="middle" letter-spacing="0.8">**</text>
<text x="292.30" y="222.80" font-size="16.5" font-weight="bold">d</text>
<text x="408.20" y="250.20" font-size="8.2" font-weight="bold" text-anchor="middle">si-Hornerin</text>
<line x1="381.40" y1="254.30" x2="433.90" y2="254.30" stroke="#000" stroke-width="1.0"/>
<text x="356.80" y="265.70" font-size="9.7" font-weight="bold" text-anchor="middle">NC</text>
<text x="389.20" y="265.70" font-size="9.7" font-weight="bold" text-anchor="middle">#1</text>
<text x="423.70" y="265.70" font-size="9.7" font-weight="bold" text-anchor="middle">#2</text>
<clipPath id="cp1"><rect x="338.40" y="270.00" width="102.50" height="19.60"/></clipPath>
<rect x="338.40" y="270.00" width="102.50" height="19.60" fill="#f6f6f6"/>
<g clip-path="url(#cp1)">
<rect x="336.00" y="268.00" width="34.00" height="24.00" rx="1.50" fill="#111" opacity="0.12" filter="url(#b2)"/>
<rect x="412.00" y="268.00" width="30.00" height="24.00" rx="1.50" fill="#111" opacity="0.05" filter="url(#b2)"/>
<rect x="337.00" y="270.00" width="36.00" height="18.00" rx="9.00" fill="#111" opacity="0.16" filter="url(#b3)"/>
<rect x="343.00" y="276.00" width="27.00" height="3.60" rx="1.80" fill="#111" opacity="0.7" filter="url(#b1)"/>
<rect x="356.00" y="275.90" width="12.00" height="3.00" rx="1.50" fill="#111" opacity="0.5" filter="url(#b1)"/>
<rect x="379.00" y="277.00" width="22.00" height="5.00" rx="2.50" fill="#111" opacity="0.06" filter="url(#b2)"/>
<rect x="411.00" y="273.00" width="28.00" height="12.00" rx="6.00" fill="#111" opacity="0.1" filter="url(#b3)"/>
<rect x="413.50" y="276.70" width="23.00" height="2.60" rx="1.30" fill="#111" opacity="0.38" filter="url(#b1)"/>
</g>
<rect x="338.40" y="270.00" width="102.50" height="19.60" fill="none" stroke="#111" stroke-width="1.1"/>
<clipPath id="cp2"><rect x="338.40" y="295.40" width="102.50" height="19.90"/></clipPath>
<rect x="338.40" y="295.40" width="102.50" height="19.90" fill="#fafafa"/>
<g clip-path="url(#cp2)">
<rect x="342.50" y="303.90" width="26.00" height="2.20" rx="1.10" fill="#111" opacity="0.85" filter="url(#b05)"/>
<rect x="375.50" y="304.20" width="26.00" height="2.40" rx="1.20" fill="#111" opacity="0.85" filter="url(#b05)"/>
<rect x="410.50" y="304.20" width="26.00" height="2.40" rx="1.20" fill="#111" opacity="0.85" filter="url(#b05)"/>
</g>
<rect x="338.40" y="295.40" width="102.50" height="19.90" fill="none" stroke="#111" stroke-width="1.1"/>
<line x1="338.40" y1="319.80" x2="440.90" y2="319.80" stroke="#000" stroke-width="0.8"/>
<text x="391.60" y="329.30" font-size="9.3" font-weight="bold" text-anchor="middle">HL7702</text>
<clipPath id="cp3"><rect x="338.40" y="336.00" width="102.50" height="19.30"/></clipPath>
<rect x="338.40" y="336.00" width="102.50" height="19.30" fill="#f6f6f6"/>
<g clip-path="url(#cp3)">
<rect x="336.00" y="334.00" width="34.00" height="24.00" rx="1.50" fill="#111" opacity="0.12" filter="url(#b2)"/>
<rect x="412.00" y="334.00" width="30.00" height="24.00" rx="1.50" fill="#111" opacity="0.06" filter="url(#b2)"/>
<rect x="338.00" y="336.00" width="34.00" height="18.00" rx="9.00" fill="#111" opacity="0.12" filter="url(#b3)"/>
<rect x="344.00" y="342.50" width="25.00" height="3.00" rx="1.50" fill="#111" opacity="0.5" filter="url(#b1)"/>
<rect x="379.00" y="342.00" width="22.00" height="6.00" rx="3.00" fill="#111" opacity="0.06" filter="url(#b2)"/>
<rect x="411.00" y="338.00" width="28.00" height="14.00" rx="7.00" fill="#111" opacity="0.12" filter="url(#b3)"/>
<rect x="413.50" y="343.00" width="23.00" height="2.60" rx="1.30" fill="#111" opacity="0.36" filter="url(#b1)"/>
</g>
<rect x="338.40" y="336.00" width="102.50" height="19.30" fill="none" stroke="#111" stroke-width="1.1"/>
<clipPath id="cp4"><rect x="338.40" y="359.40" width="102.50" height="19.20"/></clipPath>
<rect x="338.40" y="359.40" width="102.50" height="19.20" fill="#fafafa"/>
<g clip-path="url(#cp4)">
<rect x="344.00" y="368.00" width="26.00" height="3.20" rx="1.60" fill="#111" opacity="0.95" filter="url(#b05)"/>
<rect x="378.00" y="367.80" width="26.00" height="3.60" rx="1.80" fill="#111" opacity="0.95" filter="url(#b05)"/>
<rect x="412.50" y="367.90" width="25.00" height="3.40" rx="1.70" fill="#111" opacity="0.95" filter="url(#b05)"/>
</g>
<rect x="338.40" y="359.40" width="102.50" height="19.20" fill="none" stroke="#111" stroke-width="1.1"/>
<line x1="338.40" y1="382.30" x2="440.90" y2="382.30" stroke="#000" stroke-width="0.8"/>
<text x="391.60" y="392.40" font-size="9.2" font-weight="bold" text-anchor="middle">HCCLM3</text>
<text x="334.00" y="283.30" font-size="10.0" font-weight="bold" text-anchor="end">Hornerin</text>
<text x="334.00" y="310.00" font-size="10.0" font-weight="bold" text-anchor="end">β-actin</text>
<text x="334.00" y="347.20" font-size="10.0" font-weight="bold" text-anchor="end">Hornerin</text>
<text x="334.00" y="371.00" font-size="10.0" font-weight="bold" text-anchor="end">β-actin</text>
<text x="445.20" y="284.00" font-size="10.3" font-weight="bold">100kDa</text>
<text x="445.20" y="307.20" font-size="10.3" font-weight="bold">42kDa</text>
<text x="445.20" y="347.50" font-size="10.3" font-weight="bold">100kDa</text>
<text x="445.20" y="371.30" font-size="10.3" font-weight="bold">42kDa</text>
<rect x="536.40" y="293.67" width="7.20" height="78.33" fill="#808285"/>
<rect x="545.10" y="296.80" width="7.20" height="75.20" fill="#e64646"/>
<rect x="553.80" y="300.32" width="7.20" height="71.67" fill="#ec99a0"/>
<rect x="570.30" y="311.68" width="7.20" height="60.32" fill="#808285"/>
<rect x="579.00" y="363.38" width="7.20" height="8.62" fill="#e64646"/>
<rect x="587.70" y="356.73" width="7.20" height="15.28" fill="#ec99a0"/>
<rect x="603.20" y="293.67" width="7.20" height="78.33" fill="#808285"/>
<rect x="611.90" y="296.02" width="7.20" height="75.98" fill="#e64646"/>
<rect x="620.60" y="288.18" width="7.20" height="83.82" fill="#ec99a0"/>
<rect x="636.80" y="334.01" width="7.20" height="37.99" fill="#808285"/>
<rect x="645.50" y="369.26" width="7.20" height="2.74" fill="#e64646"/>
<rect x="654.20" y="361.43" width="7.20" height="10.57" fill="#ec99a0"/>
<line x1="540.00" y1="296.80" x2="540.00" y2="291.32" stroke="#000" stroke-width="0.7"/>
<line x1="538.10" y1="291.32" x2="541.90" y2="291.32" stroke="#000" stroke-width="0.7"/>
<line x1="538.10" y1="296.80" x2="541.90" y2="296.80" stroke="#000" stroke-width="0.7"/>
<circle cx="538.88" cy="292.10" r="0.85"/>
<circle cx="540.00" cy="293.67" r="0.85"/>
<circle cx="541.12" cy="296.02" r="0.85"/>
<line x1="548.70" y1="299.93" x2="548.70" y2="292.10" stroke="#000" stroke-width="0.7"/>
<line x1="546.80" y1="292.10" x2="550.60" y2="292.10" stroke="#000" stroke-width="0.7"/>
<line x1="546.80" y1="299.93" x2="550.60" y2="299.93" stroke="#000" stroke-width="0.7"/>
<rect x="546.73" y="292.03" width="1.7" height="1.7"/>
<rect x="547.85" y="295.95" width="1.7" height="1.7"/>
<rect x="548.97" y="298.30" width="1.7" height="1.7"/>
<line x1="557.40" y1="307.77" x2="557.40" y2="294.45" stroke="#000" stroke-width="0.7"/>
<line x1="555.50" y1="294.45" x2="559.30" y2="294.45" stroke="#000" stroke-width="0.7"/>
<line x1="555.50" y1="307.77" x2="559.30" y2="307.77" stroke="#000" stroke-width="0.7"/>
<path d="M555.26 296.08L557.30 296.08L556.28 294.21z"/>
<path d="M556.38 301.18L558.42 301.18L557.40 299.31z"/>
<path d="M557.50 307.83L559.54 307.83L558.52 305.96z"/>
<line x1="573.90" y1="317.17" x2="573.90" y2="306.20" stroke="#000" stroke-width="0.7"/>
<line x1="572.00" y1="306.20" x2="575.80" y2="306.20" stroke="#000" stroke-width="0.7"/>
<line x1="572.00" y1="317.17" x2="575.80" y2="317.17" stroke="#000" stroke-width="0.7"/>
<circle cx="572.78" cy="306.98" r="0.85"/>
<circle cx="573.90" cy="311.68" r="0.85"/>
<circle cx="575.02" cy="316.38" r="0.85"/>
<line x1="582.60" y1="366.52" x2="582.60" y2="360.25" stroke="#000" stroke-width="0.7"/>
<line x1="580.70" y1="360.25" x2="584.50" y2="360.25" stroke="#000" stroke-width="0.7"/>
<line x1="580.70" y1="366.52" x2="584.50" y2="366.52" stroke="#000" stroke-width="0.7"/>
<rect x="580.63" y="360.18" width="1.7" height="1.7"/>
<rect x="581.75" y="362.53" width="1.7" height="1.7"/>
<rect x="582.87" y="364.88" width="1.7" height="1.7"/>
<line x1="591.30" y1="361.82" x2="591.30" y2="352.42" stroke="#000" stroke-width="0.7"/>
<line x1="589.40" y1="352.42" x2="593.20" y2="352.42" stroke="#000" stroke-width="0.7"/>
<line x1="589.40" y1="361.82" x2="593.20" y2="361.82" stroke="#000" stroke-width="0.7"/>
<path d="M589.16 354.05L591.20 354.05L590.18 352.18z"/>
<path d="M590.28 357.58L592.32 357.58L591.30 355.71z"/>
<path d="M591.40 361.88L593.44 361.88L592.42 360.01z"/>
<line x1="606.80" y1="298.37" x2="606.80" y2="289.75" stroke="#000" stroke-width="0.7"/>
<line x1="604.90" y1="289.75" x2="608.70" y2="289.75" stroke="#000" stroke-width="0.7"/>
<line x1="604.90" y1="298.37" x2="608.70" y2="298.37" stroke="#000" stroke-width="0.7"/>
<circle cx="605.68" cy="290.53" r="0.85"/>
<circle cx="606.80" cy="293.67" r="0.85"/>
<circle cx="607.92" cy="297.58" r="0.85"/>
<line x1="615.50" y1="307.77" x2="615.50" y2="282.70" stroke="#000" stroke-width="0.7"/>
<line x1="613.60" y1="282.70" x2="617.40" y2="282.70" stroke="#000" stroke-width="0.7"/>
<line x1="613.60" y1="307.77" x2="617.40" y2="307.77" stroke="#000" stroke-width="0.7"/>
<rect x="613.53" y="282.63" width="1.7" height="1.7"/>
<rect x="614.65" y="295.17" width="1.7" height="1.7"/>
<rect x="615.77" y="306.13" width="1.7" height="1.7"/>
<line x1="624.20" y1="292.88" x2="624.20" y2="284.27" stroke="#000" stroke-width="0.7"/>
<line x1="622.30" y1="284.27" x2="626.10" y2="284.27" stroke="#000" stroke-width="0.7"/>
<line x1="622.30" y1="292.88" x2="626.10" y2="292.88" stroke="#000" stroke-width="0.7"/>
<path d="M622.06 285.90L624.10 285.90L623.08 284.03z"/>
<path d="M623.18 289.03L625.22 289.03L624.20 287.16z"/>
<path d="M624.30 292.95L626.34 292.95L625.32 291.08z"/>
<line x1="640.40" y1="339.88" x2="640.40" y2="328.92" stroke="#000" stroke-width="0.7"/>
<line x1="638.50" y1="328.92" x2="642.30" y2="328.92" stroke="#000" stroke-width="0.7"/>
<line x1="638.50" y1="339.88" x2="642.30" y2="339.88" stroke="#000" stroke-width="0.7"/>
<circle cx="639.28" cy="329.70" r="0.85"/>
<circle cx="640.40" cy="334.01" r="0.85"/>
<circle cx="641.52" cy="339.10" r="0.85"/>
<line x1="649.10" y1="371.22" x2="649.10" y2="367.30" stroke="#000" stroke-width="0.7"/>
<line x1="647.20" y1="367.30" x2="651.00" y2="367.30" stroke="#000" stroke-width="0.7"/>
<line x1="647.20" y1="371.22" x2="651.00" y2="371.22" stroke="#000" stroke-width="0.7"/>
<rect x="647.13" y="367.23" width="1.7" height="1.7"/>
<rect x="648.25" y="368.41" width="1.7" height="1.7"/>
<rect x="649.37" y="369.58" width="1.7" height="1.7"/>
<line x1="657.80" y1="364.95" x2="657.80" y2="358.68" stroke="#000" stroke-width="0.7"/>
<line x1="655.90" y1="358.68" x2="659.70" y2="358.68" stroke="#000" stroke-width="0.7"/>
<line x1="655.90" y1="364.95" x2="659.70" y2="364.95" stroke="#000" stroke-width="0.7"/>
<path d="M655.66 360.32L657.70 360.32L656.68 358.45z"/>
<path d="M656.78 362.28L658.82 362.28L657.80 360.41z"/>
<path d="M657.90 365.02L659.94 365.02L658.92 363.15z"/>
<line x1="532.70" y1="254.00" x2="532.70" y2="372.50" stroke="#000" stroke-width="1.0"/>
<line x1="532.20" y1="372.00" x2="665.10" y2="372.00" stroke="#000" stroke-width="1.0"/>
<line x1="528.50" y1="254.50" x2="532.70" y2="254.50" stroke="#000" stroke-width="1.0"/>
<text x="526.80" y="257.45" font-size="8.2" font-weight="bold" text-anchor="end">1.5</text>
<line x1="528.50" y1="293.67" x2="532.70" y2="293.67" stroke="#000" stroke-width="1.0"/>
<text x="526.80" y="296.62" font-size="8.2" font-weight="bold" text-anchor="end">1.0</text>
<line x1="528.50" y1="332.83" x2="532.70" y2="332.83" stroke="#000" stroke-width="1.0"/>
<text x="526.80" y="335.79" font-size="8.2" font-weight="bold" text-anchor="end">0.5</text>
<line x1="528.50" y1="372.00" x2="532.70" y2="372.00" stroke="#000" stroke-width="1.0"/>
<text x="526.80" y="374.95" font-size="8.2" font-weight="bold" text-anchor="end">0.0</text>
<line x1="548.70" y1="372.00" x2="548.70" y2="376.20" stroke="#000" stroke-width="1.0"/>
<line x1="582.60" y1="372.00" x2="582.60" y2="376.20" stroke="#000" stroke-width="1.0"/>
<line x1="615.50" y1="372.00" x2="615.50" y2="376.20" stroke="#000" stroke-width="1.0"/>
<line x1="649.10" y1="372.00" x2="649.10" y2="376.20" stroke="#000" stroke-width="1.0"/>
<text x="548.60" y="288.10" font-size="7.4" text-anchor="middle" fill="#262626">ns</text>
<text x="557.10" y="291.00" font-size="7.4" text-anchor="middle" fill="#262626">ns</text>
<text x="615.50" y="279.40" font-size="7.4" text-anchor="middle" fill="#262626">ns</text>
<text x="624.00" y="281.10" font-size="7.4" text-anchor="middle" fill="#262626">ns</text>
<text x="581.90" y="362.50" font-size="5.2" text-anchor="middle">**</text>
<text x="591.00" y="350.20" font-size="5.2" text-anchor="middle">*</text>
<text x="648.50" y="366.80" font-size="5.2" text-anchor="middle">*</text>
<text x="657.30" y="358.10" font-size="5.2" text-anchor="middle">*</text>
<rect x="537.60" y="251.90" width="11.60" height="3.70" fill="#808285"/>
<text x="556.00" y="256.41" font-size="7.6" fill="#333">si-NC</text>
<rect x="537.60" y="260.40" width="11.60" height="3.70" fill="#e64646"/>
<text x="556.00" y="264.91" font-size="7.6" fill="#333">si-Hornerin-#1</text>
<rect x="537.60" y="269.20" width="11.60" height="3.70" fill="#ec99a0"/>
<text x="556.00" y="273.71" font-size="7.6" fill="#333">si-Hornerin-#2</text>
<text x="548.60" y="386.00" font-size="8.2" font-weight="bold" text-anchor="middle">β-actin</text>
<text x="582.00" y="386.00" font-size="8.2" font-weight="bold" text-anchor="middle">Hornerin</text>
<text x="615.50" y="386.00" font-size="8.2" font-weight="bold" text-anchor="middle">β-actin</text>
<text x="648.50" y="386.00" font-size="8.2" font-weight="bold" text-anchor="middle">Hornerin</text>
<line x1="545.70" y1="391.50" x2="581.40" y2="391.50" stroke="#000" stroke-width="1.4"/>
<line x1="612.60" y1="391.50" x2="648.50" y2="391.50" stroke="#000" stroke-width="1.4"/>
<text x="563.80" y="401.70" font-size="9.1" font-weight="bold" text-anchor="middle">HL-7702</text>
<text x="630.40" y="401.70" font-size="9.1" font-weight="bold" text-anchor="middle">HCCLM3</text>
<text x="510.00" y="313.25" font-size="8.4" font-weight="bold" text-anchor="middle" transform="rotate(-90 510.00 313.25)" textLength="88.90" lengthAdjust="spacingAndGlyphs">Relative protein level</text>
<text x="1.00" y="419.50" font-size="16.5" font-weight="bold">e</text>
<text x="237.30" y="419.00" font-size="16.5" font-weight="bold">f</text>
<text x="445.80" y="420.80" font-size="16.5" font-weight="bold">g</text>
<text x="65.30" y="430.60" font-size="9.8" font-weight="bold" text-anchor="middle">HL-7702</text>
<rect x="54.00" y="489.13" width="14.10" height="70.87" fill="#808285"/>
<rect x="71.85" y="499.05" width="14.10" height="60.95" fill="#e64646"/>
<rect x="89.70" y="487.72" width="14.10" height="72.28" fill="#ec99a0"/>
<line x1="61.05" y1="496.93" x2="61.05" y2="479.92" stroke="#000" stroke-width="0.8"/>
<line x1="57.75" y1="479.92" x2="64.35" y2="479.92" stroke="#000" stroke-width="0.8"/>
<line x1="57.75" y1="496.93" x2="64.35" y2="496.93" stroke="#000" stroke-width="0.8"/>
<circle cx="59.37" cy="480.63" r="1.45"/>
<circle cx="61.05" cy="490.55" r="1.45"/>
<circle cx="62.73" cy="496.22" r="1.45"/>
<line x1="78.90" y1="526.69" x2="78.90" y2="471.42" stroke="#000" stroke-width="0.8"/>
<line x1="75.60" y1="471.42" x2="82.20" y2="471.42" stroke="#000" stroke-width="0.8"/>
<line x1="75.60" y1="526.69" x2="82.20" y2="526.69" stroke="#000" stroke-width="0.8"/>
<rect x="75.77" y="466.42" width="2.9" height="2.9"/>
<rect x="77.45" y="508.23" width="2.9" height="2.9"/>
<rect x="79.13" y="518.16" width="2.9" height="2.9"/>
<line x1="96.75" y1="500.47" x2="96.75" y2="474.25" stroke="#000" stroke-width="0.8"/>
<line x1="93.45" y1="474.25" x2="100.05" y2="474.25" stroke="#000" stroke-width="0.8"/>
<line x1="93.45" y1="500.47" x2="100.05" y2="500.47" stroke="#000" stroke-width="0.8"/>
<path d="M93.33 475.70L96.81 475.70L95.07 472.51z"/>
<path d="M95.01 490.58L98.49 490.58L96.75 487.39z"/>
<path d="M96.69 501.21L100.17 501.21L98.43 498.02z"/>
<line x1="51.50" y1="453.20" x2="51.50" y2="560.50" stroke="#000" stroke-width="1.0"/>
<line x1="51.00" y1="560.00" x2="107.50" y2="560.00" stroke="#000" stroke-width="1.0"/>
<line x1="46.90" y1="453.70" x2="51.50" y2="453.70" stroke="#000" stroke-width="1.0"/>
<text x="45.20" y="456.47" font-size="7.7" font-weight="bold" text-anchor="end">1.5</text>
<line x1="46.90" y1="489.13" x2="51.50" y2="489.13" stroke="#000" stroke-width="1.0"/>
<text x="45.20" y="491.91" font-size="7.7" font-weight="bold" text-anchor="end">1.0</text>
<line x1="46.90" y1="524.57" x2="51.50" y2="524.57" stroke="#000" stroke-width="1.0"/>
<text x="45.20" y="527.34" font-size="7.7" font-weight="bold" text-anchor="end">0.5</text>
<line x1="46.90" y1="560.00" x2="51.50" y2="560.00" stroke="#000" stroke-width="1.0"/>
<text x="45.20" y="562.77" font-size="7.7" font-weight="bold" text-anchor="end">0.0</text>
<line x1="61.05" y1="560.00" x2="61.05" y2="564.60" stroke="#000" stroke-width="1.0"/>
<line x1="78.90" y1="560.00" x2="78.90" y2="564.60" stroke="#000" stroke-width="1.0"/>
<line x1="96.75" y1="560.00" x2="96.75" y2="564.60" stroke="#000" stroke-width="1.0"/>
<text x="62.85" y="571.20" font-size="7.7" font-weight="bold" text-anchor="end" transform="rotate(-45 62.85 571.20)">si-NC</text>
<text x="80.70" y="571.20" font-size="7.7" font-weight="bold" text-anchor="end" transform="rotate(-45 80.70 571.20)">#1</text>
<text x="98.55" y="571.20" font-size="7.7" font-weight="bold" text-anchor="end" transform="rotate(-45 98.55 571.20)">#2</text>
<line x1="71.10" y1="578.70" x2="101.30" y2="578.70" stroke="#000" stroke-width="0.8"/>
<text x="87.90" y="586.20" font-size="7.4" font-weight="bold" text-anchor="middle" textLength="39.50" lengthAdjust="spacingAndGlyphs">si-Hornerin</text>
<text x="30.90" y="506.35" font-size="6.6" font-weight="bold" text-anchor="middle" transform="rotate(-90 30.90 506.35)" textLength="116.60" lengthAdjust="spacingAndGlyphs">Relative expression of circIPP2A2</text>
<line x1="59.30" y1="451.90" x2="96.20" y2="451.90" stroke="#000" stroke-width="1.4"/>
<text x="77.10" y="446.90" font-size="7.6" text-anchor="middle" fill="#262626">ns</text>
<line x1="59.30" y1="464.00" x2="78.60" y2="464.00" stroke="#000" stroke-width="1.4"/>
<text x="68.60" y="459.00" font-size="7.6" text-anchor="middle" fill="#262626">ns</text>
<text x="177.30" y="431.30" font-size="9.8" font-weight="bold" text-anchor="middle">HCCLM3</text>
<rect x="158.50" y="485.53" width="14.30" height="74.27" fill="#808285"/>
<rect x="176.35" y="482.19" width="14.30" height="77.61" fill="#e64646"/>
<rect x="194.20" y="519.70" width="14.30" height="40.10" fill="#ec99a0"/>
<line x1="165.65" y1="492.03" x2="165.65" y2="478.11" stroke="#000" stroke-width="0.8"/>
<line x1="162.35" y1="478.11" x2="168.95" y2="478.11" stroke="#000" stroke-width="0.8"/>
<line x1="162.35" y1="492.03" x2="168.95" y2="492.03" stroke="#000" stroke-width="0.8"/>
<circle cx="163.97" cy="478.11" r="1.45"/>
<circle cx="165.65" cy="487.39" r="1.45"/>
<circle cx="167.33" cy="491.10" r="1.45"/>
<line x1="183.50" y1="482.75" x2="183.50" y2="481.45" stroke="#000" stroke-width="0.8"/>
<line x1="180.20" y1="481.45" x2="186.80" y2="481.45" stroke="#000" stroke-width="0.8"/>
<line x1="180.20" y1="482.75" x2="186.80" y2="482.75" stroke="#000" stroke-width="0.8"/>
<rect x="180.37" y="481.30" width="2.9" height="2.9"/>
<rect x="182.05" y="480.37" width="2.9" height="2.9"/>
<rect x="183.73" y="480.37" width="2.9" height="2.9"/>
<line x1="201.35" y1="552.37" x2="201.35" y2="486.46" stroke="#000" stroke-width="0.8"/>
<line x1="198.05" y1="486.46" x2="204.65" y2="486.46" stroke="#000" stroke-width="0.8"/>
<line x1="198.05" y1="552.37" x2="204.65" y2="552.37" stroke="#000" stroke-width="0.8"/>
<path d="M197.93 485.13L201.41 485.13L199.67 481.94z"/>
<path d="M199.61 531.54L203.09 531.54L201.35 528.35z"/>
<path d="M201.29 550.11L204.77 550.11L203.03 546.92z"/>
<line x1="155.20" y1="447.90" x2="155.20" y2="560.30" stroke="#000" stroke-width="1.0"/>
<line x1="154.70" y1="559.80" x2="212.50" y2="559.80" stroke="#000" stroke-width="1.0"/>
<line x1="150.60" y1="448.40" x2="155.20" y2="448.40" stroke="#000" stroke-width="1.0"/>
<text x="148.90" y="451.17" font-size="7.7" font-weight="bold" text-anchor="end">1.2</text>
<line x1="150.60" y1="485.53" x2="155.20" y2="485.53" stroke="#000" stroke-width="1.0"/>
<text x="148.90" y="488.31" font-size="7.7" font-weight="bold" text-anchor="end">1.0</text>
<line x1="150.60" y1="522.67" x2="155.20" y2="522.67" stroke="#000" stroke-width="1.0"/>
<text x="148.90" y="525.44" font-size="7.7" font-weight="bold" text-anchor="end">0.8</text>
<line x1="150.60" y1="559.80" x2="155.20" y2="559.80" stroke="#000" stroke-width="1.0"/>
<text x="148.90" y="562.57" font-size="7.7" font-weight="bold" text-anchor="end">0.6</text>
<line x1="165.65" y1="559.80" x2="165.65" y2="564.40" stroke="#000" stroke-width="1.0"/>
<line x1="183.50" y1="559.80" x2="183.50" y2="564.40" stroke="#000" stroke-width="1.0"/>
<line x1="201.35" y1="559.80" x2="201.35" y2="564.40" stroke="#000" stroke-width="1.0"/>
<text x="167.45" y="571.00" font-size="7.7" font-weight="bold" text-anchor="end" transform="rotate(-45 167.45 571.00)">si-NC</text>
<text x="185.30" y="571.00" font-size="7.7" font-weight="bold" text-anchor="end" transform="rotate(-45 185.30 571.00)">#1</text>
<text x="203.15" y="571.00" font-size="7.7" font-weight="bold" text-anchor="end" transform="rotate(-45 203.15 571.00)">#2</text>
<line x1="176.00" y1="579.40" x2="205.00" y2="579.40" stroke="#000" stroke-width="0.8"/>
<text x="191.20" y="588.50" font-size="7.4" font-weight="bold" text-anchor="middle" textLength="39.50" lengthAdjust="spacingAndGlyphs">si-Hornerin</text>
<text x="133.40" y="506.10" font-size="6.6" font-weight="bold" text-anchor="middle" transform="rotate(-90 133.40 506.10)" textLength="116.60" lengthAdjust="spacingAndGlyphs">Relative expression of circIPP2A2</text>
<line x1="164.50" y1="456.00" x2="201.20" y2="456.00" stroke="#000" stroke-width="1.4"/>
<text x="182.90" y="450.70" font-size="7.6" text-anchor="middle" fill="#262626">ns</text>
<line x1="164.50" y1="471.00" x2="183.40" y2="471.00" stroke="#000" stroke-width="1.4"/>
<text x="174.10" y="465.50" font-size="7.6" text-anchor="middle" fill="#262626">ns</text>
<text x="284.30" y="430.60" font-size="9.8" font-weight="bold" text-anchor="middle">HL-7702</text>
<rect x="272.70" y="485.87" width="14.20" height="74.93" fill="#808285"/>
<rect x="290.70" y="537.20" width="14.20" height="23.60" fill="#e64646"/>
<rect x="308.70" y="546.04" width="14.20" height="14.76" fill="#ec99a0"/>
<line x1="279.80" y1="489.61" x2="279.80" y2="482.87" stroke="#000" stroke-width="0.8"/>
<line x1="276.50" y1="482.87" x2="283.10" y2="482.87" stroke="#000" stroke-width="0.8"/>
<line x1="276.50" y1="489.61" x2="283.10" y2="489.61" stroke="#000" stroke-width="0.8"/>
<circle cx="278.12" cy="483.62" r="1.45"/>
<circle cx="279.80" cy="487.37" r="1.45"/>
<circle cx="281.48" cy="488.11" r="1.45"/>
<line x1="297.80" y1="539.07" x2="297.80" y2="535.32" stroke="#000" stroke-width="0.8"/>
<line x1="294.50" y1="535.32" x2="301.10" y2="535.32" stroke="#000" stroke-width="0.8"/>
<line x1="294.50" y1="539.07" x2="301.10" y2="539.07" stroke="#000" stroke-width="0.8"/>
<rect x="294.67" y="533.87" width="2.9" height="2.9"/>
<rect x="296.35" y="536.12" width="2.9" height="2.9"/>
<rect x="298.03" y="536.87" width="2.9" height="2.9"/>
<line x1="315.80" y1="549.56" x2="315.80" y2="541.32" stroke="#000" stroke-width="0.8"/>
<line x1="312.50" y1="541.32" x2="319.10" y2="541.32" stroke="#000" stroke-width="0.8"/>
<line x1="312.50" y1="549.56" x2="319.10" y2="549.56" stroke="#000" stroke-width="0.8"/>
<path d="M312.38 542.77L315.86 542.77L314.12 539.58z"/>
<path d="M314.06 549.51L317.54 549.51L315.80 546.32z"/>
<path d="M315.74 550.26L319.22 550.26L317.48 547.07z"/>
<line x1="269.70" y1="447.90" x2="269.70" y2="561.30" stroke="#000" stroke-width="1.0"/>
<line x1="269.20" y1="560.80" x2="326.80" y2="560.80" stroke="#000" stroke-width="1.0"/>
<line x1="265.10" y1="448.40" x2="269.70" y2="448.40" stroke="#000" stroke-width="1.0"/>
<text x="263.40" y="451.17" font-size="7.7" font-weight="bold" text-anchor="end">1.5</text>
<line x1="265.10" y1="485.87" x2="269.70" y2="485.87" stroke="#000" stroke-width="1.0"/>
<text x="263.40" y="488.64" font-size="7.7" font-weight="bold" text-anchor="end">1.0</text>
<line x1="265.10" y1="523.33" x2="269.70" y2="523.33" stroke="#000" stroke-width="1.0"/>
<text x="263.40" y="526.11" font-size="7.7" font-weight="bold" text-anchor="end">0.5</text>
<line x1="265.10" y1="560.80" x2="269.70" y2="560.80" stroke="#000" stroke-width="1.0"/>
<text x="263.40" y="563.57" font-size="7.7" font-weight="bold" text-anchor="end">0.0</text>
<line x1="279.80" y1="560.80" x2="279.80" y2="565.40" stroke="#000" stroke-width="1.0"/>
<line x1="297.80" y1="560.80" x2="297.80" y2="565.40" stroke="#000" stroke-width="1.0"/>
<line x1="315.80" y1="560.80" x2="315.80" y2="565.40" stroke="#000" stroke-width="1.0"/>
<text x="281.60" y="572.00" font-size="7.7" font-weight="bold" text-anchor="end" transform="rotate(-45 281.60 572.00)">si-NC</text>
<text x="299.60" y="572.00" font-size="7.7" font-weight="bold" text-anchor="end" transform="rotate(-45 299.60 572.00)">#1</text>
<text x="317.60" y="572.00" font-size="7.7" font-weight="bold" text-anchor="end" transform="rotate(-45 317.60 572.00)">#2</text>
<line x1="287.80" y1="580.40" x2="319.20" y2="580.40" stroke="#000" stroke-width="0.8"/>
<text x="305.40" y="589.20" font-size="7.4" font-weight="bold" text-anchor="middle" textLength="46.50" lengthAdjust="spacingAndGlyphs">si-circIPP2A2</text>
<text x="248.40" y="506.60" font-size="6.6" font-weight="bold" text-anchor="middle" transform="rotate(-90 248.40 506.60)" textLength="116.60" lengthAdjust="spacingAndGlyphs">Relative expression of circIPP2A2</text>
<line x1="278.00" y1="461.20" x2="311.90" y2="461.20" stroke="#000" stroke-width="1.4"/>
<text x="295.20" y="459.90" font-size="13.0" font-weight="bold" text-anchor="middle" letter-spacing="0.8">**</text>
<line x1="278.00" y1="476.30" x2="299.10" y2="476.30" stroke="#000" stroke-width="1.4"/>
<text x="288.70" y="475.00" font-size="13.0" font-weight="bold" text-anchor="middle" letter-spacing="0.8">**</text>
<text x="389.50" y="430.60" font-size="9.8" font-weight="bold" text-anchor="middle">HCCLM3</text>
<rect x="374.20" y="485.73" width="14.10" height="74.67" fill="#808285"/>
<rect x="392.25" y="545.09" width="14.10" height="15.31" fill="#e64646"/>
<rect x="410.30" y="534.64" width="14.10" height="25.76" fill="#ec99a0"/>
<line x1="381.25" y1="496.19" x2="381.25" y2="473.04" stroke="#000" stroke-width="0.8"/>
<line x1="377.95" y1="473.04" x2="384.55" y2="473.04" stroke="#000" stroke-width="0.8"/>
<line x1="377.95" y1="496.19" x2="384.55" y2="496.19" stroke="#000" stroke-width="0.8"/>
<circle cx="379.57" cy="472.29" r="1.45"/>
<circle cx="381.25" cy="491.71" r="1.45"/>
<circle cx="382.93" cy="493.20" r="1.45"/>
<line x1="399.30" y1="546.21" x2="399.30" y2="543.60" stroke="#000" stroke-width="0.8"/>
<line x1="396.00" y1="543.60" x2="402.60" y2="543.60" stroke="#000" stroke-width="0.8"/>
<line x1="396.00" y1="546.21" x2="402.60" y2="546.21" stroke="#000" stroke-width="0.8"/>
<rect x="396.17" y="544.02" width="2.9" height="2.9"/>
<rect x="397.85" y="542.52" width="2.9" height="2.9"/>
<rect x="399.53" y="543.27" width="2.9" height="2.9"/>
<line x1="417.35" y1="538.00" x2="417.35" y2="531.28" stroke="#000" stroke-width="0.8"/>
<line x1="414.05" y1="531.28" x2="420.65" y2="531.28" stroke="#000" stroke-width="0.8"/>
<line x1="414.05" y1="538.00" x2="420.65" y2="538.00" stroke="#000" stroke-width="0.8"/>
<path d="M413.93 532.73L417.41 532.73L415.67 529.54z"/>
<path d="M415.61 537.96L419.09 537.96L417.35 534.77z"/>
<path d="M417.29 538.70L420.77 538.70L419.03 535.51z"/>
<line x1="371.00" y1="447.90" x2="371.00" y2="560.90" stroke="#000" stroke-width="1.0"/>
<line x1="370.50" y1="560.40" x2="428.00" y2="560.40" stroke="#000" stroke-width="1.0"/>
<line x1="366.40" y1="448.40" x2="371.00" y2="448.40" stroke="#000" stroke-width="1.0"/>
<text x="364.70" y="451.17" font-size="7.7" font-weight="bold" text-anchor="end">1.5</text>
<line x1="366.40" y1="485.73" x2="371.00" y2="485.73" stroke="#000" stroke-width="1.0"/>
<text x="364.70" y="488.51" font-size="7.7" font-weight="bold" text-anchor="end">1.0</text>
<line x1="366.40" y1="523.07" x2="371.00" y2="523.07" stroke="#000" stroke-width="1.0"/>
<text x="364.70" y="525.84" font-size="7.7" font-weight="bold" text-anchor="end">0.5</text>
<line x1="366.40" y1="560.40" x2="371.00" y2="560.40" stroke="#000" stroke-width="1.0"/>
<text x="364.70" y="563.17" font-size="7.7" font-weight="bold" text-anchor="end">0.0</text>
<line x1="381.25" y1="560.40" x2="381.25" y2="565.00" stroke="#000" stroke-width="1.0"/>
<line x1="399.30" y1="560.40" x2="399.30" y2="565.00" stroke="#000" stroke-width="1.0"/>
<line x1="417.35" y1="560.40" x2="417.35" y2="565.00" stroke="#000" stroke-width="1.0"/>
<text x="383.05" y="571.60" font-size="7.7" font-weight="bold" text-anchor="end" transform="rotate(-45 383.05 571.60)">si-NC</text>
<text x="401.10" y="571.60" font-size="7.7" font-weight="bold" text-anchor="end" transform="rotate(-45 401.10 571.60)">#1</text>
<text x="419.15" y="571.60" font-size="7.7" font-weight="bold" text-anchor="end" transform="rotate(-45 419.15 571.60)">#2</text>
<line x1="389.50" y1="580.40" x2="420.50" y2="580.40" stroke="#000" stroke-width="0.8"/>
<text x="406.60" y="588.70" font-size="7.4" font-weight="bold" text-anchor="middle" textLength="46.50" lengthAdjust="spacingAndGlyphs">si-circIPP2A2</text>
<text x="348.80" y="506.40" font-size="6.6" font-weight="bold" text-anchor="middle" transform="rotate(-90 348.80 506.40)" textLength="116.60" lengthAdjust="spacingAndGlyphs">Relative expression of circIPP2A2</text>
<line x1="380.30" y1="453.20" x2="412.90" y2="453.20" stroke="#000" stroke-width="1.4"/>
<text x="397.00" y="452.10" font-size="13.0" font-weight="bold" text-anchor="middle" letter-spacing="0.8">**</text>
<line x1="380.30" y1="464.00" x2="401.60" y2="464.00" stroke="#000" stroke-width="1.4"/>
<text x="391.20" y="462.90" font-size="13.0" font-weight="bold" text-anchor="middle" letter-spacing="0.8">**</text>
<text x="528.90" y="431.10" font-size="9.8" font-weight="bold" text-anchor="middle">HL-7702</text>
<rect x="503.20" y="486.07" width="14.20" height="74.13" fill="#808285"/>
<rect x="520.90" y="481.25" width="14.20" height="78.95" fill="#e64646"/>
<rect x="538.60" y="467.90" width="14.20" height="92.30" fill="#ec99a0"/>
<line x1="510.30" y1="497.93" x2="510.30" y2="473.46" stroke="#000" stroke-width="0.8"/>
<line x1="507.00" y1="473.46" x2="513.60" y2="473.46" stroke="#000" stroke-width="0.8"/>
<line x1="507.00" y1="497.93" x2="513.60" y2="497.93" stroke="#000" stroke-width="0.8"/>
<circle cx="508.62" cy="474.21" r="1.45"/>
<circle cx="510.30" cy="486.07" r="1.45"/>
<circle cx="511.98" cy="497.93" r="1.45"/>
<line x1="528.00" y1="483.84" x2="528.00" y2="478.65" stroke="#000" stroke-width="0.8"/>
<line x1="524.70" y1="478.65" x2="531.30" y2="478.65" stroke="#000" stroke-width="0.8"/>
<line x1="524.70" y1="483.84" x2="531.30" y2="483.84" stroke="#000" stroke-width="0.8"/>
<rect x="524.87" y="477.94" width="2.9" height="2.9"/>
<rect x="526.55" y="479.43" width="2.9" height="2.9"/>
<rect x="528.23" y="481.65" width="2.9" height="2.9"/>
<line x1="545.70" y1="477.17" x2="545.70" y2="458.64" stroke="#000" stroke-width="0.8"/>
<line x1="542.40" y1="458.64" x2="549.00" y2="458.64" stroke="#000" stroke-width="0.8"/>
<line x1="542.40" y1="477.17" x2="549.00" y2="477.17" stroke="#000" stroke-width="0.8"/>
<path d="M542.28 460.83L545.76 460.83L544.02 457.64z"/>
<path d="M543.96 468.98L547.44 468.98L545.70 465.79z"/>
<path d="M545.64 478.62L549.12 478.62L547.38 475.43z"/>
<line x1="499.00" y1="448.50" x2="499.00" y2="560.70" stroke="#000" stroke-width="1.0"/>
<line x1="498.50" y1="560.20" x2="557.00" y2="560.20" stroke="#000" stroke-width="1.0"/>
<line x1="494.40" y1="449.00" x2="499.00" y2="449.00" stroke="#000" stroke-width="1.0"/>
<text x="492.70" y="451.77" font-size="7.7" font-weight="bold" text-anchor="end">1.5</text>
<line x1="494.40" y1="486.07" x2="499.00" y2="486.07" stroke="#000" stroke-width="1.0"/>
<text x="492.70" y="488.84" font-size="7.7" font-weight="bold" text-anchor="end">1.0</text>
<line x1="494.40" y1="523.13" x2="499.00" y2="523.13" stroke="#000" stroke-width="1.0"/>
<text x="492.70" y="525.91" font-size="7.7" font-weight="bold" text-anchor="end">0.5</text>
<line x1="494.40" y1="560.20" x2="499.00" y2="560.20" stroke="#000" stroke-width="1.0"/>
<text x="492.70" y="562.97" font-size="7.7" font-weight="bold" text-anchor="end">0.0</text>
<line x1="510.30" y1="560.20" x2="510.30" y2="564.80" stroke="#000" stroke-width="1.0"/>
<line x1="528.00" y1="560.20" x2="528.00" y2="564.80" stroke="#000" stroke-width="1.0"/>
<line x1="545.70" y1="560.20" x2="545.70" y2="564.80" stroke="#000" stroke-width="1.0"/>
<text x="512.10" y="571.40" font-size="7.7" font-weight="bold" text-anchor="end" transform="rotate(-45 512.10 571.40)">si-NC</text>
<text x="529.80" y="571.40" font-size="7.7" font-weight="bold" text-anchor="end" transform="rotate(-45 529.80 571.40)">#1</text>
<text x="547.50" y="571.40" font-size="7.7" font-weight="bold" text-anchor="end" transform="rotate(-45 547.50 571.40)">#2</text>
<line x1="517.90" y1="579.70" x2="548.80" y2="579.70" stroke="#000" stroke-width="0.8"/>
<text x="535.10" y="588.30" font-size="7.4" font-weight="bold" text-anchor="middle" textLength="46.50" lengthAdjust="spacingAndGlyphs">si-circIPP2A2</text>
<text x="468.90" y="504.60" font-size="7.0" font-weight="bold" text-anchor="middle" transform="rotate(-90 468.90 504.60)" textLength="86.90" lengthAdjust="spacingAndGlyphs">Relative Hornerin mRNA</text>
<text x="477.20" y="504.60" font-size="7.0" font-weight="bold" text-anchor="middle" transform="rotate(-90 477.20 504.60)" textLength="39.50" lengthAdjust="spacingAndGlyphs">expression</text>
<line x1="509.00" y1="453.80" x2="549.50" y2="453.80" stroke="#000" stroke-width="1.4"/>
<text x="528.20" y="449.30" font-size="7.6" text-anchor="middle" fill="#262626">ns</text>
<line x1="509.00" y1="468.90" x2="528.90" y2="468.90" stroke="#000" stroke-width="1.4"/>
<text x="518.60" y="464.00" font-size="7.6" text-anchor="middle" fill="#262626">ns</text>
<text x="630.80" y="431.10" font-size="9.8" font-weight="bold" text-anchor="middle">HCCLM3</text>
<rect x="618.10" y="486.07" width="14.20" height="74.13" fill="#808285"/>
<rect x="635.75" y="501.63" width="14.20" height="58.57" fill="#e64646"/>
<rect x="653.40" y="481.99" width="14.20" height="78.21" fill="#ec99a0"/>
<line x1="625.20" y1="496.45" x2="625.20" y2="475.69" stroke="#000" stroke-width="0.8"/>
<line x1="621.90" y1="475.69" x2="628.50" y2="475.69" stroke="#000" stroke-width="0.8"/>
<line x1="621.90" y1="496.45" x2="628.50" y2="496.45" stroke="#000" stroke-width="0.8"/>
<circle cx="623.52" cy="476.43" r="1.45"/>
<circle cx="625.20" cy="486.07" r="1.45"/>
<circle cx="626.88" cy="495.70" r="1.45"/>
<line x1="642.85" y1="511.27" x2="642.85" y2="489.77" stroke="#000" stroke-width="0.8"/>
<line x1="639.55" y1="489.77" x2="646.15" y2="489.77" stroke="#000" stroke-width="0.8"/>
<line x1="639.55" y1="511.27" x2="646.15" y2="511.27" stroke="#000" stroke-width="0.8"/>
<rect x="639.72" y="489.06" width="2.9" height="2.9"/>
<rect x="641.40" y="502.41" width="2.9" height="2.9"/>
<rect x="643.08" y="509.08" width="2.9" height="2.9"/>
<line x1="660.50" y1="489.77" x2="660.50" y2="474.21" stroke="#000" stroke-width="0.8"/>
<line x1="657.20" y1="474.21" x2="663.80" y2="474.21" stroke="#000" stroke-width="0.8"/>
<line x1="657.20" y1="489.77" x2="663.80" y2="489.77" stroke="#000" stroke-width="0.8"/>
<path d="M657.08 475.66L660.56 475.66L658.82 472.47z"/>
<path d="M658.76 483.81L662.24 483.81L660.50 480.62z"/>
<path d="M660.44 491.22L663.92 491.22L662.18 488.03z"/>
<line x1="614.00" y1="448.50" x2="614.00" y2="560.70" stroke="#000" stroke-width="1.0"/>
<line x1="613.50" y1="560.20" x2="672.00" y2="560.20" stroke="#000" stroke-width="1.0"/>
<line x1="609.40" y1="449.00" x2="614.00" y2="449.00" stroke="#000" stroke-width="1.0"/>
<text x="607.70" y="451.77" font-size="7.7" font-weight="bold" text-anchor="end">1.5</text>
<line x1="609.40" y1="486.07" x2="614.00" y2="486.07" stroke="#000" stroke-width="1.0"/>
<text x="607.70" y="488.84" font-size="7.7" font-weight="bold" text-anchor="end">1.0</text>
<line x1="609.40" y1="523.13" x2="614.00" y2="523.13" stroke="#000" stroke-width="1.0"/>
<text x="607.70" y="525.91" font-size="7.7" font-weight="bold" text-anchor="end">0.5</text>
<line x1="609.40" y1="560.20" x2="614.00" y2="560.20" stroke="#000" stroke-width="1.0"/>
<text x="607.70" y="562.97" font-size="7.7" font-weight="bold" text-anchor="end">0.0</text>
<line x1="625.20" y1="560.20" x2="625.20" y2="564.80" stroke="#000" stroke-width="1.0"/>
<line x1="642.85" y1="560.20" x2="642.85" y2="564.80" stroke="#000" stroke-width="1.0"/>
<line x1="660.50" y1="560.20" x2="660.50" y2="564.80" stroke="#000" stroke-width="1.0"/>
<text x="627.00" y="571.40" font-size="7.7" font-weight="bold" text-anchor="end" transform="rotate(-45 627.00 571.40)">si-NC</text>
<text x="644.65" y="571.40" font-size="7.7" font-weight="bold" text-anchor="end" transform="rotate(-45 644.65 571.40)">#1</text>
<text x="662.30" y="571.40" font-size="7.7" font-weight="bold" text-anchor="end" transform="rotate(-45 662.30 571.40)">#2</text>
<line x1="632.80" y1="579.70" x2="663.40" y2="579.70" stroke="#000" stroke-width="0.8"/>
<text x="650.00" y="588.30" font-size="7.4" font-weight="bold" text-anchor="middle" textLength="46.50" lengthAdjust="spacingAndGlyphs">si-circIPP2A2</text>
<text x="584.10" y="504.60" font-size="7.0" font-weight="bold" text-anchor="middle" transform="rotate(-90 584.10 504.60)" textLength="86.90" lengthAdjust="spacingAndGlyphs">Relative Hornerin mRNA</text>
<text x="592.70" y="504.60" font-size="7.0" font-weight="bold" text-anchor="middle" transform="rotate(-90 592.70 504.60)" textLength="39.50" lengthAdjust="spacingAndGlyphs">expression</text>
<line x1="623.90" y1="455.10" x2="661.00" y2="455.10" stroke="#000" stroke-width="1.4"/>
<text x="641.10" y="450.00" font-size="7.6" text-anchor="middle" fill="#262626">ns</text>
<line x1="623.90" y1="469.90" x2="642.10" y2="469.90" stroke="#000" stroke-width="1.4"/>
<text x="631.80" y="464.70" font-size="7.6" text-anchor="middle" fill="#262626">ns</text>
<text x="1.80" y="614.60" font-size="16.5" font-weight="bold">h</text>
<text x="150.20" y="618.90" font-size="9.3" font-weight="bold" text-anchor="middle">si-circIPP2A2</text>
<line x1="119.40" y1="623.00" x2="176.70" y2="623.00" stroke="#000" stroke-width="1.1"/>
<text x="102.40" y="635.00" font-size="11.0" font-weight="bold" text-anchor="middle">NC</text>
<text x="133.40" y="635.00" font-size="11.0" font-weight="bold" text-anchor="middle">#1</text>
<text x="168.30" y="635.00" font-size="11.0" font-weight="bold" text-anchor="middle">#2</text>
<clipPath id="cp5"><rect x="87.50" y="640.10" width="89.20" height="19.90"/></clipPath>
<rect x="87.50" y="640.10" width="89.20" height="19.90" fill="#f9f9f9"/>
<g clip-path="url(#cp5)">
<rect x="91.00" y="649.60" width="22.00" height="3.40" rx="1.70" fill="#111" opacity="0.95" filter="url(#b05)"/>
<rect x="91.50" y="649.20" width="9.00" height="3.60" rx="1.80" fill="#111" opacity="0.5" filter="url(#b05)"/>
<rect x="120.50" y="651.60" width="20.00" height="2.80" rx="1.40" fill="#111" opacity="0.4" filter="url(#b1)"/>
<rect x="150.00" y="651.40" width="20.00" height="2.80" rx="1.40" fill="#111" opacity="0.4" filter="url(#b1)"/>
</g>
<rect x="87.50" y="640.10" width="89.20" height="19.90" fill="none" stroke="#111" stroke-width="1.1"/>
<clipPath id="cp6"><rect x="87.50" y="667.60" width="89.20" height="19.50"/></clipPath>
<rect x="87.50" y="667.60" width="89.20" height="19.50" fill="#f1f1f1"/>
<g clip-path="url(#cp6)">
<rect x="92.00" y="677.20" width="21.00" height="2.00" rx="1.00" fill="#111" opacity="0.85" filter="url(#b05)"/>
<rect x="121.00" y="677.15" width="21.00" height="2.10" rx="1.05" fill="#111" opacity="0.85" filter="url(#b05)"/>
<rect x="150.50" y="677.35" width="21.00" height="2.10" rx="1.05" fill="#111" opacity="0.85" filter="url(#b05)"/>
</g>
<rect x="87.50" y="667.60" width="89.20" height="19.50" fill="none" stroke="#111" stroke-width="1.1"/>
<line x1="87.50" y1="691.00" x2="176.70" y2="691.00" stroke="#8c8c8c" stroke-width="1.7"/>
<text x="134.80" y="701.20" font-size="8.2" font-weight="bold" text-anchor="middle">HL-7702</text>
<clipPath id="cp7"><rect x="87.50" y="713.30" width="89.20" height="20.30"/></clipPath>
<rect x="87.50" y="713.30" width="89.20" height="20.30" fill="#f7f7f7"/>
<g clip-path="url(#cp7)">
<rect x="91.50" y="722.70" width="23.00" height="3.20" rx="1.60" fill="#111" opacity="0.85" filter="url(#b05)"/>
<rect x="122.50" y="722.30" width="19.00" height="2.60" rx="1.30" fill="#111" opacity="0.3" filter="url(#b1)"/>
<rect x="150.50" y="722.30" width="21.00" height="2.60" rx="1.30" fill="#111" opacity="0.42" filter="url(#b1)"/>
</g>
<rect x="87.50" y="713.30" width="89.20" height="20.30" fill="none" stroke="#111" stroke-width="1.1"/>
<line x1="143.50" y1="713.30" x2="143.50" y2="733.60" stroke="#bbb" stroke-width="0.4"/>
<clipPath id="cp8"><rect x="87.50" y="740.80" width="89.20" height="19.50"/></clipPath>
<rect x="87.50" y="740.80" width="89.20" height="19.50" fill="#fbfbfb"/>
<g clip-path="url(#cp8)">
<rect x="92.00" y="749.85" width="22.00" height="2.30" rx="1.15" fill="#111" opacity="0.9" filter="url(#b05)"/>
<rect x="121.50" y="749.70" width="22.00" height="2.60" rx="1.30" fill="#111" opacity="0.9" filter="url(#b05)"/>
<rect x="150.50" y="749.90" width="22.00" height="2.60" rx="1.30" fill="#111" opacity="0.9" filter="url(#b05)"/>
</g>
<rect x="87.50" y="740.80" width="89.20" height="19.50" fill="none" stroke="#111" stroke-width="1.1"/>
<line x1="87.50" y1="764.00" x2="176.70" y2="764.00" stroke="#8c8c8c" stroke-width="1.7"/>
<text x="133.80" y="775.80" font-size="8.6" font-weight="bold" text-anchor="middle">HCCLM3</text>
<text x="83.00" y="654.30" font-size="11.1" font-weight="bold" text-anchor="end">Hornerin</text>
<text x="83.00" y="679.60" font-size="11.1" font-weight="bold" text-anchor="end">β-actin</text>
<text x="83.00" y="727.70" font-size="11.1" font-weight="bold" text-anchor="end">Hornerin</text>
<text x="83.00" y="753.50" font-size="11.1" font-weight="bold" text-anchor="end">β-actin</text>
<text x="181.10" y="655.00" font-size="11.0" font-weight="bold">100kDa</text>
<text x="181.10" y="679.60" font-size="11.0" font-weight="bold">42kDa</text>
<text x="181.10" y="728.00" font-size="11.0" font-weight="bold">100kDa</text>
<text x="181.10" y="753.60" font-size="11.0" font-weight="bold">42kDa</text>
<rect x="279.90" y="674.60" width="7.70" height="84.00" fill="#808285"/>
<rect x="289.20" y="666.20" width="7.70" height="92.40" fill="#e64646"/>
<rect x="298.50" y="679.64" width="7.70" height="78.96" fill="#ec99a0"/>
<rect x="315.60" y="689.72" width="7.70" height="68.88" fill="#808285"/>
<rect x="324.90" y="747.68" width="7.70" height="10.92" fill="#e64646"/>
<rect x="334.20" y="752.30" width="7.70" height="6.30" fill="#ec99a0"/>
<rect x="350.90" y="674.60" width="7.70" height="84.00" fill="#808285"/>
<rect x="360.20" y="659.90" width="7.70" height="98.70" fill="#e64646"/>
<rect x="369.50" y="672.92" width="7.70" height="85.68" fill="#ec99a0"/>
<rect x="386.90" y="690.56" width="7.70" height="68.04" fill="#808285"/>
<rect x="396.20" y="741.38" width="7.70" height="17.22" fill="#e64646"/>
<rect x="405.50" y="734.66" width="7.70" height="23.94" fill="#ec99a0"/>
<line x1="283.75" y1="677.96" x2="283.75" y2="671.24" stroke="#000" stroke-width="0.7"/>
<line x1="281.85" y1="671.24" x2="285.65" y2="671.24" stroke="#000" stroke-width="0.7"/>
<line x1="281.85" y1="677.96" x2="285.65" y2="677.96" stroke="#000" stroke-width="0.7"/>
<circle cx="282.63" cy="672.08" r="0.85"/>
<circle cx="283.75" cy="674.60" r="0.85"/>
<circle cx="284.87" cy="677.12" r="0.85"/>
<line x1="293.05" y1="672.92" x2="293.05" y2="661.16" stroke="#000" stroke-width="0.7"/>
<line x1="291.15" y1="661.16" x2="294.95" y2="661.16" stroke="#000" stroke-width="0.7"/>
<line x1="291.15" y1="672.92" x2="294.95" y2="672.92" stroke="#000" stroke-width="0.7"/>
<rect x="291.08" y="661.15" width="1.7" height="1.7"/>
<rect x="292.20" y="665.35" width="1.7" height="1.7"/>
<rect x="293.32" y="671.23" width="1.7" height="1.7"/>
<line x1="302.35" y1="684.68" x2="302.35" y2="676.28" stroke="#000" stroke-width="0.7"/>
<line x1="300.45" y1="676.28" x2="304.25" y2="676.28" stroke="#000" stroke-width="0.7"/>
<line x1="300.45" y1="684.68" x2="304.25" y2="684.68" stroke="#000" stroke-width="0.7"/>
<path d="M300.21 677.97L302.25 677.97L301.23 676.10z"/>
<path d="M301.33 680.49L303.37 680.49L302.35 678.62z"/>
<path d="M302.45 684.69L304.49 684.69L303.47 682.82z"/>
<line x1="319.45" y1="692.24" x2="319.45" y2="687.20" stroke="#000" stroke-width="0.7"/>
<line x1="317.55" y1="687.20" x2="321.35" y2="687.20" stroke="#000" stroke-width="0.7"/>
<line x1="317.55" y1="692.24" x2="321.35" y2="692.24" stroke="#000" stroke-width="0.7"/>
<circle cx="318.33" cy="688.04" r="0.85"/>
<circle cx="319.45" cy="689.72" r="0.85"/>
<circle cx="320.57" cy="691.40" r="0.85"/>
<line x1="328.75" y1="751.88" x2="328.75" y2="743.48" stroke="#000" stroke-width="0.7"/>
<line x1="326.85" y1="743.48" x2="330.65" y2="743.48" stroke="#000" stroke-width="0.7"/>
<line x1="326.85" y1="751.88" x2="330.65" y2="751.88" stroke="#000" stroke-width="0.7"/>
<rect x="326.78" y="743.47" width="1.7" height="1.7"/>
<rect x="327.90" y="746.83" width="1.7" height="1.7"/>
<rect x="329.02" y="750.19" width="1.7" height="1.7"/>
<line x1="338.05" y1="755.24" x2="338.05" y2="747.68" stroke="#000" stroke-width="0.7"/>
<line x1="336.15" y1="747.68" x2="339.95" y2="747.68" stroke="#000" stroke-width="0.7"/>
<line x1="336.15" y1="755.24" x2="339.95" y2="755.24" stroke="#000" stroke-width="0.7"/>
<path d="M335.91 749.37L337.95 749.37L336.93 747.50z"/>
<path d="M337.03 753.15L339.07 753.15L338.05 751.28z"/>
<path d="M338.15 755.25L340.19 755.25L339.17 753.38z"/>
<line x1="354.75" y1="676.28" x2="354.75" y2="672.08" stroke="#000" stroke-width="0.7"/>
<line x1="352.85" y1="672.08" x2="356.65" y2="672.08" stroke="#000" stroke-width="0.7"/>
<line x1="352.85" y1="676.28" x2="356.65" y2="676.28" stroke="#000" stroke-width="0.7"/>
<circle cx="353.63" cy="672.92" r="0.85"/>
<circle cx="354.75" cy="674.60" r="0.85"/>
<circle cx="355.87" cy="675.44" r="0.85"/>
<line x1="364.05" y1="668.72" x2="364.05" y2="653.60" stroke="#000" stroke-width="0.7"/>
<line x1="362.15" y1="653.60" x2="365.95" y2="653.60" stroke="#000" stroke-width="0.7"/>
<line x1="362.15" y1="668.72" x2="365.95" y2="668.72" stroke="#000" stroke-width="0.7"/>
<rect x="362.08" y="653.59" width="1.7" height="1.7"/>
<rect x="363.20" y="659.05" width="1.7" height="1.7"/>
<rect x="364.32" y="667.03" width="1.7" height="1.7"/>
<line x1="373.35" y1="679.64" x2="373.35" y2="669.56" stroke="#000" stroke-width="0.7"/>
<line x1="371.45" y1="669.56" x2="375.25" y2="669.56" stroke="#000" stroke-width="0.7"/>
<line x1="371.45" y1="679.64" x2="375.25" y2="679.64" stroke="#000" stroke-width="0.7"/>
<path d="M371.21 671.25L373.25 671.25L372.23 669.38z"/>
<path d="M372.33 673.77L374.37 673.77L373.35 671.90z"/>
<path d="M373.45 679.65L375.49 679.65L374.47 677.78z"/>
<line x1="390.75" y1="696.44" x2="390.75" y2="688.04" stroke="#000" stroke-width="0.7"/>
<line x1="388.85" y1="688.04" x2="392.65" y2="688.04" stroke="#000" stroke-width="0.7"/>
<line x1="388.85" y1="696.44" x2="392.65" y2="696.44" stroke="#000" stroke-width="0.7"/>
<circle cx="389.63" cy="688.88" r="0.85"/>
<circle cx="390.75" cy="690.56" r="0.85"/>
<circle cx="391.87" cy="695.60" r="0.85"/>
<line x1="400.05" y1="746.84" x2="400.05" y2="736.76" stroke="#000" stroke-width="0.7"/>
<line x1="398.15" y1="736.76" x2="401.95" y2="736.76" stroke="#000" stroke-width="0.7"/>
<line x1="398.15" y1="746.84" x2="401.95" y2="746.84" stroke="#000" stroke-width="0.7"/>
<rect x="398.08" y="736.75" width="1.7" height="1.7"/>
<rect x="399.20" y="740.53" width="1.7" height="1.7"/>
<rect x="400.32" y="745.15" width="1.7" height="1.7"/>
<line x1="409.35" y1="740.12" x2="409.35" y2="729.20" stroke="#000" stroke-width="0.7"/>
<line x1="407.45" y1="729.20" x2="411.25" y2="729.20" stroke="#000" stroke-width="0.7"/>
<line x1="407.45" y1="740.12" x2="411.25" y2="740.12" stroke="#000" stroke-width="0.7"/>
<path d="M407.21 730.89L409.25 730.89L408.23 729.02z"/>
<path d="M408.33 735.51L410.37 735.51L409.35 733.64z"/>
<path d="M409.45 740.13L411.49 740.13L410.47 738.26z"/>
<line x1="276.50" y1="632.10" x2="276.50" y2="759.10" stroke="#000" stroke-width="1.0"/>
<line x1="276.00" y1="758.60" x2="417.80" y2="758.60" stroke="#000" stroke-width="1.0"/>
<line x1="272.30" y1="632.60" x2="276.50" y2="632.60" stroke="#000" stroke-width="1.0"/>
<text x="270.60" y="635.80" font-size="8.9" font-weight="bold" text-anchor="end">1.5</text>
<line x1="272.30" y1="674.60" x2="276.50" y2="674.60" stroke="#000" stroke-width="1.0"/>
<text x="270.60" y="677.80" font-size="8.9" font-weight="bold" text-anchor="end">1.0</text>
<line x1="272.30" y1="716.60" x2="276.50" y2="716.60" stroke="#000" stroke-width="1.0"/>
<text x="270.60" y="719.80" font-size="8.9" font-weight="bold" text-anchor="end">0.5</text>
<line x1="272.30" y1="758.60" x2="276.50" y2="758.60" stroke="#000" stroke-width="1.0"/>
<text x="270.60" y="761.80" font-size="8.9" font-weight="bold" text-anchor="end">0.0</text>
<line x1="293.05" y1="758.60" x2="293.05" y2="762.80" stroke="#000" stroke-width="1.0"/>
<line x1="328.75" y1="758.60" x2="328.75" y2="762.80" stroke="#000" stroke-width="1.0"/>
<line x1="364.05" y1="758.60" x2="364.05" y2="762.80" stroke="#000" stroke-width="1.0"/>
<line x1="400.05" y1="758.60" x2="400.05" y2="762.80" stroke="#000" stroke-width="1.0"/>
<text x="293.60" y="658.30" font-size="8.0" text-anchor="middle" fill="#262626">ns</text>
<text x="303.20" y="672.70" font-size="8.0" text-anchor="middle" fill="#262626">ns</text>
<text x="364.60" y="651.50" font-size="8.0" text-anchor="middle" fill="#262626">ns</text>
<text x="374.20" y="666.90" font-size="8.0" text-anchor="middle" fill="#262626">ns</text>
<text x="328.60" y="744.30" font-size="5.2" text-anchor="middle">**</text>
<text x="338.20" y="746.10" font-size="5.2" text-anchor="middle">**</text>
<text x="400.00" y="736.10" font-size="5.2" text-anchor="middle">**</text>
<text x="410.20" y="727.20" font-size="5.2" text-anchor="middle">**</text>
<rect x="280.90" y="621.60" width="12.70" height="4.10" fill="#808285"/>
<text x="299.80" y="626.52" font-size="8.2" fill="#333">si-NC</text>
<rect x="280.90" y="630.90" width="12.70" height="4.10" fill="#e64646"/>
<text x="299.80" y="635.82" font-size="8.2" fill="#333">si-circIPP2A2-#1</text>
<rect x="280.90" y="640.50" width="12.70" height="4.10" fill="#ec99a0"/>
<text x="299.80" y="645.42" font-size="8.2" fill="#333">si-circIPP2A2-#2</text>
<text x="292.60" y="773.40" font-size="8.9" font-weight="bold" text-anchor="middle">β-actin</text>
<text x="328.60" y="773.40" font-size="8.9" font-weight="bold" text-anchor="middle">Hornerin</text>
<text x="363.90" y="773.40" font-size="8.9" font-weight="bold" text-anchor="middle">β-actin</text>
<text x="400.00" y="773.40" font-size="8.9" font-weight="bold" text-anchor="middle">Hornerin</text>
<line x1="287.80" y1="779.20" x2="329.60" y2="779.20" stroke="#000" stroke-width="1.4"/>
<line x1="361.50" y1="779.20" x2="401.70" y2="779.20" stroke="#000" stroke-width="1.4"/>
<text x="310.80" y="790.50" font-size="9.8" font-weight="bold" text-anchor="middle">HL-7702</text>
<text x="383.50" y="790.50" font-size="9.8" font-weight="bold" text-anchor="middle">HCCLM3</text>
<text x="252.90" y="695.60" font-size="9.2" font-weight="bold" text-anchor="middle" transform="rotate(-90 252.90 695.60)" textLength="95.00" lengthAdjust="spacingAndGlyphs">Relative protein level</text>
<text x="445.60" y="614.80" font-size="16.5" font-weight="bold">i</text>
<text x="539.00" y="676.30" font-size="10.5" font-weight="bold" transform="rotate(-45 539.00 676.30)">Input</text>
<text x="566.80" y="666.00" font-size="10.5" font-weight="bold" transform="rotate(-45 566.80 666.00)">circIPP2A2</text>
<text x="577.00" y="673.50" font-size="10.5" font-weight="bold" transform="rotate(-45 577.00 673.50)">splicing probe</text>
<text x="598.50" y="676.50" font-size="10.5" font-weight="bold" transform="rotate(-45 598.50 676.50)">NC probe</text>
<clipPath id="cp9"><rect x="526.90" y="680.50" width="99.10" height="26.20"/></clipPath>
<rect x="526.90" y="680.50" width="99.10" height="26.20" fill="#fcfcfc"/>
<g clip-path="url(#cp9)">
<rect x="534.00" y="684.30" width="22.00" height="10.00" rx="5.00" fill="#111" opacity="0.55" filter="url(#b1)" transform="rotate(4 545 689.3)"/>
<rect x="535.00" y="684.30" width="16.00" height="3.40" rx="1.70" fill="#111" opacity="0.75" filter="url(#b1)" transform="rotate(10 543 686.0)"/>
<rect x="546.50" y="686.00" width="9.00" height="3.00" rx="1.50" fill="#111" opacity="0.5" filter="url(#b1)" transform="rotate(-10 551 687.5)"/>
<rect x="565.05" y="687.50" width="21.50" height="16.00" rx="8.00" fill="#111" opacity="0.6" filter="url(#b1)"/>
<rect x="565.30" y="695.00" width="21.00" height="8.00" rx="4.00" fill="#111" opacity="0.7" filter="url(#b1)"/>
<rect x="565.80" y="691.50" width="20.00" height="3.00" rx="1.50" fill="#111" opacity="0.35" filter="url(#b1)"/>
<rect x="597.00" y="688.00" width="22.00" height="4.00" rx="2.00" fill="#111" opacity="0.16" filter="url(#b2)" transform="rotate(-12 608 690)"/>
<rect x="601.00" y="690.00" width="10.00" height="8.00" rx="4.00" fill="#111" opacity="0.06" filter="url(#b2)"/>
</g>
<rect x="526.90" y="680.50" width="99.10" height="26.20" fill="none" stroke="#111" stroke-width="1.1"/>
<line x1="526.90" y1="710.40" x2="626.00" y2="710.40" stroke="#333" stroke-width="1.0"/>
<text x="576.60" y="721.50" font-size="10.4" font-weight="bold" text-anchor="middle">HL-7702</text>
<clipPath id="cp10"><rect x="526.90" y="732.90" width="99.10" height="26.10"/></clipPath>
<rect x="526.90" y="732.90" width="99.10" height="26.10" fill="#f2f2f2"/>
<g clip-path="url(#cp10)">
<rect x="533.00" y="735.50" width="23.00" height="21.00" rx="1.50" fill="#111" opacity="0.55" filter="url(#b1)"/>
<rect x="533.50" y="742.00" width="22.00" height="5.00" rx="2.50" fill="#111" opacity="0.5" filter="url(#b1)"/>
<rect x="533.50" y="748.50" width="22.00" height="3.00" rx="1.50" fill="#111" opacity="0.3" filter="url(#b1)"/>
<rect x="565.25" y="735.50" width="24.50" height="22.00" rx="1.50" fill="#111" opacity="0.55" filter="url(#b1)"/>
<rect x="566.50" y="744.45" width="23.00" height="5.50" rx="2.75" fill="#111" opacity="0.85" filter="url(#b1)"/>
<rect x="568.00" y="740.50" width="20.00" height="3.00" rx="1.50" fill="#111" opacity="0.3" filter="url(#b1)"/>
<rect x="597.00" y="737.50" width="23.00" height="19.00" rx="1.50" fill="#111" opacity="0.16" filter="url(#b2)"/>
</g>
<rect x="526.90" y="732.90" width="99.10" height="26.10" fill="none" stroke="#111" stroke-width="1.1"/>
<line x1="526.90" y1="763.30" x2="626.00" y2="763.30" stroke="#8c8c8c" stroke-width="1.5"/>
<text x="580.60" y="776.90" font-size="10.0" font-weight="bold" text-anchor="middle">HCCLM3</text>
<text x="521.50" y="696.60" font-size="10.5" font-weight="bold" text-anchor="end">Hornerin</text>
<text x="521.50" y="749.00" font-size="10.5" font-weight="bold" text-anchor="end">Hornerin</text>
<text x="631.30" y="696.80" font-size="10.4" font-weight="bold">100kDa</text>
<text x="631.30" y="749.20" font-size="10.4" font-weight="bold">100kDa</text>
<text x="2.20" y="811.00" font-size="16.5" font-weight="bold">j</text>
<defs>
<marker id="ahk" viewBox="0 0 10 10" refX="8" refY="5" markerWidth="7.2" markerHeight="7.2" markerUnits="userSpaceOnUse" orient="auto"><path d="M0 0.8L10 5L0 9.2L3 5z" fill="#000"/></marker>
<marker id="ahg" viewBox="0 0 10 10" refX="8" refY="5" markerWidth="7.2" markerHeight="7.2" markerUnits="userSpaceOnUse" orient="auto"><path d="M0 0.8L10 5L0 9.2L3 5z" fill="#3fa535"/></marker>
<marker id="ahb" viewBox="0 0 10 10" refX="8" refY="5" markerWidth="7.2" markerHeight="7.2" markerUnits="userSpaceOnUse" orient="auto"><path d="M0 0.8L10 5L0 9.2L3 5z" fill="#36a9e1"/></marker>
<marker id="ahp" viewBox="0 0 10 10" refX="8" refY="5" markerWidth="7.2" markerHeight="7.2" markerUnits="userSpaceOnUse" orient="auto"><path d="M0 0.8L10 5L0 9.2L3 5z" fill="#662483"/></marker>
<marker id="ahr" viewBox="0 0 10 10" refX="8" refY="5" markerWidth="7.2" markerHeight="7.2" markerUnits="userSpaceOnUse" orient="auto"><path d="M0 0.8L10 5L0 9.2L3 5z" fill="#be1622"/></marker>
</defs>
<ellipse cx="81.4" cy="894.0" rx="61.3" ry="59.4" fill="#fff" stroke="#000" stroke-width="1.05"/>
<ellipse cx="81.4" cy="894.0" rx="56.3" ry="54.4" fill="#fff" stroke="#000" stroke-width="1.05"/>
<rect x="78.60" y="835.00" width="6.30" height="5.60" fill="#d2232a" stroke="#000" stroke-width="0.5"/>
<line x1="26.40" y1="921.30" x2="31.40" y2="918.70" stroke="#000" stroke-width="0.8"/>
<line x1="129.40" y1="923.20" x2="133.90" y2="925.80" stroke="#000" stroke-width="0.8"/>
<line x1="93.50" y1="947.90" x2="95.00" y2="952.90" stroke="#000" stroke-width="0.8"/>
<path d="M54 821.9L70.6 821.9" fill="none" stroke="#000" stroke-width="1.2" marker-end="url(#ahk)"/>
<path d="M113 821.9L96.6 821.9" fill="none" stroke="#000" stroke-width="1.2" marker-end="url(#ahk)"/>
<path d="M76.6 830.2Q69 829.4 61.8 833.0" fill="none" stroke="#3fa535" stroke-width="1.15" marker-end="url(#ahg)"/>
<path d="M85 829.7Q94 829.3 101.5 833.8" fill="none" stroke="#36a9e1" stroke-width="1.15" marker-end="url(#ahb)"/>
<path d="M18.8 920.6Q13.6 914 12.7 906.6" fill="none" stroke="#3fa535" stroke-width="1.15" marker-end="url(#ahg)"/>
<path d="M19.3 923.2Q21.5 930.5 26.9 934.8" fill="none" stroke="#662483" stroke-width="1.15" marker-end="url(#ahp)"/>
<path d="M139.4 925.7Q144 919.5 145.1 912.7" fill="none" stroke="#36a9e1" stroke-width="1.15" marker-end="url(#ahb)"/>
<path d="M138.2 930.7Q135 937.5 129.6 942.3" fill="none" stroke="#be1622" stroke-width="1.15" marker-end="url(#ahr)"/>
<path d="M98 957.8Q105.5 957 111.5 953.0" fill="none" stroke="#be1622" stroke-width="1.15" marker-end="url(#ahr)"/>
<path d="M93.7 958.8Q86 960.6 78.9 958.9" fill="none" stroke="#662483" stroke-width="1.15" marker-end="url(#ahp)"/>
<text x="82.10" y="823.60" font-size="6.6" font-weight="bold" text-anchor="middle">#1</text>
<text x="19.80" y="865.80" font-size="6.8" font-weight="bold" text-anchor="middle" fill="#3fa535">#5</text>
<text x="144.00" y="864.10" font-size="6.8" font-weight="bold" text-anchor="middle" fill="#36a9e1">#2</text>
<text x="45.80" y="953.30" font-size="6.8" font-weight="bold" text-anchor="middle" fill="#662483">#4</text>
<text x="124.00" y="951.50" font-size="6.8" font-weight="bold" text-anchor="middle" fill="#be1622">#3</text>
<text x="86.10" y="848.30" font-size="8.0" font-weight="bold" text-anchor="middle">+1</text>
<text x="43.60" y="918.50" font-size="8.1" font-weight="bold" text-anchor="middle">+516</text>
<text x="117.20" y="921.80" font-size="8.1" font-weight="bold" text-anchor="middle">+250</text>
<text x="91.30" y="942.40" font-size="8.1" font-weight="bold" text-anchor="middle">+302</text>
<text x="83.70" y="891.70" font-size="12.1" font-weight="bold" text-anchor="middle" textLength="63.50" lengthAdjust="spacingAndGlyphs">circIPP2A2</text>
<text x="83.70" y="901.80" font-size="7.7" text-anchor="middle" textLength="95.90" lengthAdjust="spacingAndGlyphs">primers targeted sequences</text>
<text x="152.60" y="811.00" font-size="16.5" font-weight="bold">k</text>
<text x="245.50" y="823.40" font-size="11.6" font-weight="bold" text-anchor="middle">HL-7702</text>
<rect x="208.30" y="948.71" width="7.00" height="7.59" fill="#808285"/>
<rect x="216.60" y="899.99" width="7.00" height="56.31" fill="#e64646"/>
<rect x="226.60" y="948.31" width="7.00" height="7.99" fill="#808285"/>
<rect x="234.90" y="949.11" width="7.00" height="7.19" fill="#e64646"/>
<rect x="244.90" y="948.31" width="7.00" height="7.99" fill="#808285"/>
<rect x="253.20" y="947.91" width="7.00" height="8.39" fill="#e64646"/>
<rect x="263.20" y="948.31" width="7.00" height="7.99" fill="#808285"/>
<rect x="271.50" y="945.92" width="7.00" height="10.38" fill="#e64646"/>
<rect x="281.50" y="948.31" width="7.00" height="7.99" fill="#808285"/>
<rect x="289.80" y="903.03" width="7.00" height="53.27" fill="#e64646"/>
<line x1="211.80" y1="949.51" x2="211.80" y2="947.91" stroke="#000" stroke-width="0.6"/>
<line x1="209.80" y1="947.91" x2="213.80" y2="947.91" stroke="#000" stroke-width="0.6"/>
<line x1="209.80" y1="949.51" x2="213.80" y2="949.51" stroke="#000" stroke-width="0.6"/>
<line x1="220.10" y1="916.37" x2="220.10" y2="884.42" stroke="#000" stroke-width="0.6"/>
<line x1="217.80" y1="884.42" x2="222.40" y2="884.42" stroke="#000" stroke-width="0.6"/>
<line x1="217.80" y1="916.37" x2="222.40" y2="916.37" stroke="#000" stroke-width="0.6"/>
<circle cx="210.26" cy="947.91" r="1.15"/>
<circle cx="211.80" cy="948.71" r="1.15"/>
<circle cx="213.34" cy="949.51" r="1.15"/>
<circle cx="210.26" cy="948.71" r="1.15"/>
<circle cx="211.80" cy="947.91" r="1.15"/>
<rect x="217.19" y="869.94" width="2.6" height="2.6"/>
<rect x="218.80" y="891.11" width="2.6" height="2.6"/>
<rect x="220.41" y="907.08" width="2.6" height="2.6"/>
<rect x="217.19" y="907.88" width="2.6" height="2.6"/>
<rect x="218.80" y="908.68" width="2.6" height="2.6"/>
<rect x="220.41" y="911.07" width="2.6" height="2.6"/>
<line x1="230.10" y1="951.51" x2="230.10" y2="945.12" stroke="#000" stroke-width="0.6"/>
<line x1="228.10" y1="945.12" x2="232.10" y2="945.12" stroke="#000" stroke-width="0.6"/>
<line x1="228.10" y1="951.51" x2="232.10" y2="951.51" stroke="#000" stroke-width="0.6"/>
<line x1="238.40" y1="953.11" x2="238.40" y2="945.12" stroke="#000" stroke-width="0.6"/>
<line x1="236.10" y1="945.12" x2="240.70" y2="945.12" stroke="#000" stroke-width="0.6"/>
<line x1="236.10" y1="953.11" x2="240.70" y2="953.11" stroke="#000" stroke-width="0.6"/>
<circle cx="228.56" cy="945.12" r="1.15"/>
<circle cx="230.10" cy="948.31" r="1.15"/>
<circle cx="231.64" cy="949.11" r="1.15"/>
<circle cx="228.56" cy="950.71" r="1.15"/>
<circle cx="230.10" cy="947.51" r="1.15"/>
<rect x="235.49" y="944.62" width="2.6" height="2.6"/>
<rect x="237.10" y="947.81" width="2.6" height="2.6"/>
<rect x="238.71" y="950.21" width="2.6" height="2.6"/>
<rect x="235.49" y="951.01" width="2.6" height="2.6"/>
<rect x="237.10" y="947.01" width="2.6" height="2.6"/>
<line x1="248.40" y1="949.91" x2="248.40" y2="945.92" stroke="#000" stroke-width="0.6"/>
<line x1="246.40" y1="945.92" x2="250.40" y2="945.92" stroke="#000" stroke-width="0.6"/>
<line x1="246.40" y1="949.91" x2="250.40" y2="949.91" stroke="#000" stroke-width="0.6"/>
<line x1="256.70" y1="949.91" x2="256.70" y2="945.92" stroke="#000" stroke-width="0.6"/>
<line x1="254.40" y1="945.92" x2="259.00" y2="945.92" stroke="#000" stroke-width="0.6"/>
<line x1="254.40" y1="949.91" x2="259.00" y2="949.91" stroke="#000" stroke-width="0.6"/>
<circle cx="246.86" cy="945.92" r="1.15"/>
<circle cx="248.40" cy="948.31" r="1.15"/>
<circle cx="249.94" cy="949.11" r="1.15"/>
<circle cx="246.86" cy="949.11" r="1.15"/>
<circle cx="248.40" cy="947.51" r="1.15"/>
<rect x="253.79" y="945.42" width="2.6" height="2.6"/>
<rect x="255.40" y="947.01" width="2.6" height="2.6"/>
<rect x="257.01" y="947.81" width="2.6" height="2.6"/>
<rect x="253.79" y="946.21" width="2.6" height="2.6"/>
<line x1="266.70" y1="952.31" x2="266.70" y2="943.52" stroke="#000" stroke-width="0.6"/>
<line x1="264.70" y1="943.52" x2="268.70" y2="943.52" stroke="#000" stroke-width="0.6"/>
<line x1="264.70" y1="952.31" x2="268.70" y2="952.31" stroke="#000" stroke-width="0.6"/>
<line x1="275.00" y1="950.71" x2="275.00" y2="941.13" stroke="#000" stroke-width="0.6"/>
<line x1="272.70" y1="941.13" x2="277.30" y2="941.13" stroke="#000" stroke-width="0.6"/>
<line x1="272.70" y1="950.71" x2="277.30" y2="950.71" stroke="#000" stroke-width="0.6"/>
<circle cx="265.16" cy="943.52" r="1.15"/>
<circle cx="266.70" cy="948.31" r="1.15"/>
<circle cx="268.24" cy="949.11" r="1.15"/>
<circle cx="265.16" cy="951.51" r="1.15"/>
<circle cx="266.70" cy="947.51" r="1.15"/>
<rect x="272.09" y="939.83" width="2.6" height="2.6"/>
<rect x="273.70" y="943.02" width="2.6" height="2.6"/>
<rect x="275.31" y="946.21" width="2.6" height="2.6"/>
<rect x="272.09" y="947.81" width="2.6" height="2.6"/>
<rect x="273.70" y="945.42" width="2.6" height="2.6"/>
<line x1="285.00" y1="950.71" x2="285.00" y2="945.12" stroke="#000" stroke-width="0.6"/>
<line x1="283.00" y1="945.12" x2="287.00" y2="945.12" stroke="#000" stroke-width="0.6"/>
<line x1="283.00" y1="950.71" x2="287.00" y2="950.71" stroke="#000" stroke-width="0.6"/>
<line x1="293.30" y1="913.97" x2="293.30" y2="892.41" stroke="#000" stroke-width="0.6"/>
<line x1="291.00" y1="892.41" x2="295.60" y2="892.41" stroke="#000" stroke-width="0.6"/>
<line x1="291.00" y1="913.97" x2="295.60" y2="913.97" stroke="#000" stroke-width="0.6"/>
<circle cx="283.46" cy="945.12" r="1.15"/>
<circle cx="285.00" cy="948.31" r="1.15"/>
<circle cx="286.54" cy="949.11" r="1.15"/>
<circle cx="283.46" cy="949.91" r="1.15"/>
<circle cx="285.00" cy="947.51" r="1.15"/>
<rect x="290.39" y="891.11" width="2.6" height="2.6"/>
<rect x="292.00" y="892.70" width="2.6" height="2.6"/>
<rect x="293.61" y="899.09" width="2.6" height="2.6"/>
<rect x="290.39" y="907.08" width="2.6" height="2.6"/>
<rect x="292.00" y="911.07" width="2.6" height="2.6"/>
<rect x="293.61" y="912.67" width="2.6" height="2.6"/>
<line x1="205.30" y1="835.88" x2="205.30" y2="956.92" stroke="#000" stroke-width="1.25"/>
<line x1="204.68" y1="956.30" x2="300.80" y2="956.30" stroke="#000" stroke-width="1.25"/>
<line x1="200.90" y1="836.50" x2="205.30" y2="836.50" stroke="#000" stroke-width="1.25"/>
<text x="199.20" y="839.81" font-size="9.2" font-weight="bold" text-anchor="end">15</text>
<line x1="200.90" y1="876.43" x2="205.30" y2="876.43" stroke="#000" stroke-width="1.25"/>
<text x="199.20" y="879.75" font-size="9.2" font-weight="bold" text-anchor="end">10</text>
<line x1="200.90" y1="916.37" x2="205.30" y2="916.37" stroke="#000" stroke-width="1.25"/>
<text x="199.20" y="919.68" font-size="9.2" font-weight="bold" text-anchor="end">5</text>
<line x1="200.90" y1="956.30" x2="205.30" y2="956.30" stroke="#000" stroke-width="1.25"/>
<text x="199.20" y="959.61" font-size="9.2" font-weight="bold" text-anchor="end">0</text>
<line x1="215.95" y1="956.30" x2="215.95" y2="960.70" stroke="#000" stroke-width="1.25"/>
<line x1="234.25" y1="956.30" x2="234.25" y2="960.70" stroke="#000" stroke-width="1.25"/>
<line x1="252.55" y1="956.30" x2="252.55" y2="960.70" stroke="#000" stroke-width="1.25"/>
<line x1="270.85" y1="956.30" x2="270.85" y2="960.70" stroke="#000" stroke-width="1.25"/>
<line x1="289.15" y1="956.30" x2="289.15" y2="960.70" stroke="#000" stroke-width="1.25"/>
<text x="215.95" y="970.40" font-size="8.8" font-weight="bold" text-anchor="middle">#1</text>
<text x="234.25" y="970.40" font-size="8.8" font-weight="bold" text-anchor="middle">#2</text>
<text x="252.55" y="970.40" font-size="8.8" font-weight="bold" text-anchor="middle">#3</text>
<text x="270.85" y="970.40" font-size="8.8" font-weight="bold" text-anchor="middle">#4</text>
<text x="289.15" y="970.40" font-size="8.8" font-weight="bold" text-anchor="middle">#5</text>
<text x="238.40" y="940.80" font-size="8.0" text-anchor="middle" fill="#262626">ns</text>
<text x="256.00" y="942.00" font-size="8.0" text-anchor="middle" fill="#262626">ns</text>
<text x="274.90" y="938.20" font-size="8.0" text-anchor="middle" fill="#262626">ns</text>
<text x="220.40" y="869.50" font-size="6" text-anchor="middle">**</text>
<text x="293.20" y="889.10" font-size="6" text-anchor="middle">***</text>
<text x="173.50" y="896.00" font-size="7.8" font-weight="bold" text-anchor="middle" transform="rotate(-90 173.50 896.00)" textLength="117.40" lengthAdjust="spacingAndGlyphs">Relative expression of RNAs</text>
<text x="184.00" y="896.00" font-size="7.8" font-weight="bold" text-anchor="middle" transform="rotate(-90 184.00 896.00)" textLength="95.50" lengthAdjust="spacingAndGlyphs">(anti-Hornerin/anti-IgG)</text>
<rect x="209.80" y="837.70" width="13.10" height="4.20" fill="#808285"/>
<rect x="209.80" y="848.20" width="13.10" height="4.20" fill="#e64646"/>
<text x="229.90" y="842.60" font-size="8.3" fill="#333">anti-IgG</text>
<text x="229.90" y="853.00" font-size="8.3" fill="#333">anti-Hornerin</text>
<text x="411.80" y="823.40" font-size="11.6" font-weight="bold" text-anchor="middle">HCCLM3</text>
<rect x="373.30" y="948.71" width="7.00" height="7.59" fill="#808285"/>
<rect x="381.60" y="890.41" width="7.00" height="65.89" fill="#e64646"/>
<rect x="391.60" y="948.31" width="7.00" height="7.99" fill="#808285"/>
<rect x="399.90" y="946.72" width="7.00" height="9.58" fill="#e64646"/>
<rect x="409.90" y="948.71" width="7.00" height="7.59" fill="#808285"/>
<rect x="418.20" y="947.12" width="7.00" height="9.18" fill="#e64646"/>
<rect x="428.20" y="948.31" width="7.00" height="7.99" fill="#808285"/>
<rect x="436.50" y="946.72" width="7.00" height="9.58" fill="#e64646"/>
<rect x="446.50" y="948.31" width="7.00" height="7.99" fill="#808285"/>
<rect x="454.80" y="884.90" width="7.00" height="71.40" fill="#e64646"/>
<line x1="376.80" y1="949.51" x2="376.80" y2="947.91" stroke="#000" stroke-width="0.6"/>
<line x1="374.80" y1="947.91" x2="378.80" y2="947.91" stroke="#000" stroke-width="0.6"/>
<line x1="374.80" y1="949.51" x2="378.80" y2="949.51" stroke="#000" stroke-width="0.6"/>
<line x1="385.10" y1="897.20" x2="385.10" y2="880.43" stroke="#000" stroke-width="0.6"/>
<line x1="382.80" y1="880.43" x2="387.40" y2="880.43" stroke="#000" stroke-width="0.6"/>
<line x1="382.80" y1="897.20" x2="387.40" y2="897.20" stroke="#000" stroke-width="0.6"/>
<circle cx="375.26" cy="947.91" r="1.15"/>
<circle cx="376.80" cy="948.71" r="1.15"/>
<circle cx="378.34" cy="949.51" r="1.15"/>
<circle cx="375.26" cy="948.71" r="1.15"/>
<circle cx="376.80" cy="947.91" r="1.15"/>
<rect x="382.19" y="871.94" width="2.6" height="2.6"/>
<rect x="383.80" y="883.12" width="2.6" height="2.6"/>
<rect x="385.41" y="888.71" width="2.6" height="2.6"/>
<rect x="382.19" y="891.11" width="2.6" height="2.6"/>
<rect x="383.80" y="894.30" width="2.6" height="2.6"/>
<rect x="385.41" y="896.70" width="2.6" height="2.6"/>
<line x1="395.10" y1="950.71" x2="395.10" y2="945.92" stroke="#000" stroke-width="0.6"/>
<line x1="393.10" y1="945.92" x2="397.10" y2="945.92" stroke="#000" stroke-width="0.6"/>
<line x1="393.10" y1="950.71" x2="397.10" y2="950.71" stroke="#000" stroke-width="0.6"/>
<line x1="403.40" y1="951.51" x2="403.40" y2="942.72" stroke="#000" stroke-width="0.6"/>
<line x1="401.10" y1="942.72" x2="405.70" y2="942.72" stroke="#000" stroke-width="0.6"/>
<line x1="401.10" y1="951.51" x2="405.70" y2="951.51" stroke="#000" stroke-width="0.6"/>
<circle cx="393.56" cy="945.92" r="1.15"/>
<circle cx="395.10" cy="948.31" r="1.15"/>
<circle cx="396.64" cy="949.11" r="1.15"/>
<circle cx="393.56" cy="949.91" r="1.15"/>
<circle cx="395.10" cy="947.51" r="1.15"/>
<rect x="400.49" y="939.03" width="2.6" height="2.6"/>
<rect x="402.10" y="944.62" width="2.6" height="2.6"/>
<rect x="403.71" y="947.01" width="2.6" height="2.6"/>
<rect x="400.49" y="948.61" width="2.6" height="2.6"/>
<rect x="402.10" y="945.42" width="2.6" height="2.6"/>
<line x1="413.40" y1="949.51" x2="413.40" y2="947.91" stroke="#000" stroke-width="0.6"/>
<line x1="411.40" y1="947.91" x2="415.40" y2="947.91" stroke="#000" stroke-width="0.6"/>
<line x1="411.40" y1="949.51" x2="415.40" y2="949.51" stroke="#000" stroke-width="0.6"/>
<line x1="421.70" y1="950.71" x2="421.70" y2="943.52" stroke="#000" stroke-width="0.6"/>
<line x1="419.40" y1="943.52" x2="424.00" y2="943.52" stroke="#000" stroke-width="0.6"/>
<line x1="419.40" y1="950.71" x2="424.00" y2="950.71" stroke="#000" stroke-width="0.6"/>
<circle cx="411.86" cy="947.91" r="1.15"/>
<circle cx="413.40" cy="948.71" r="1.15"/>
<circle cx="414.94" cy="949.51" r="1.15"/>
<circle cx="411.86" cy="948.71" r="1.15"/>
<circle cx="413.40" cy="947.91" r="1.15"/>
<rect x="418.79" y="943.02" width="2.6" height="2.6"/>
<rect x="420.40" y="945.42" width="2.6" height="2.6"/>
<rect x="422.01" y="947.81" width="2.6" height="2.6"/>
<rect x="418.79" y="947.01" width="2.6" height="2.6"/>
<line x1="431.70" y1="950.71" x2="431.70" y2="945.92" stroke="#000" stroke-width="0.6"/>
<line x1="429.70" y1="945.92" x2="433.70" y2="945.92" stroke="#000" stroke-width="0.6"/>
<line x1="429.70" y1="950.71" x2="433.70" y2="950.71" stroke="#000" stroke-width="0.6"/>
<line x1="440.00" y1="950.71" x2="440.00" y2="942.72" stroke="#000" stroke-width="0.6"/>
<line x1="437.70" y1="942.72" x2="442.30" y2="942.72" stroke="#000" stroke-width="0.6"/>
<line x1="437.70" y1="950.71" x2="442.30" y2="950.71" stroke="#000" stroke-width="0.6"/>
<circle cx="430.16" cy="945.92" r="1.15"/>
<circle cx="431.70" cy="948.31" r="1.15"/>
<circle cx="433.24" cy="949.11" r="1.15"/>
<circle cx="430.16" cy="949.91" r="1.15"/>
<circle cx="431.70" cy="947.51" r="1.15"/>
<rect x="437.09" y="941.42" width="2.6" height="2.6"/>
<rect x="438.70" y="943.82" width="2.6" height="2.6"/>
<rect x="440.31" y="947.01" width="2.6" height="2.6"/>
<rect x="437.09" y="947.81" width="2.6" height="2.6"/>
<rect x="438.70" y="945.42" width="2.6" height="2.6"/>
<line x1="450.00" y1="952.31" x2="450.00" y2="941.13" stroke="#000" stroke-width="0.6"/>
<line x1="448.00" y1="941.13" x2="452.00" y2="941.13" stroke="#000" stroke-width="0.6"/>
<line x1="448.00" y1="952.31" x2="452.00" y2="952.31" stroke="#000" stroke-width="0.6"/>
<line x1="458.30" y1="902.79" x2="458.30" y2="867.65" stroke="#000" stroke-width="0.6"/>
<line x1="456.00" y1="867.65" x2="460.60" y2="867.65" stroke="#000" stroke-width="0.6"/>
<line x1="456.00" y1="902.79" x2="460.60" y2="902.79" stroke="#000" stroke-width="0.6"/>
<circle cx="448.46" cy="941.13" r="1.15"/>
<circle cx="450.00" cy="948.31" r="1.15"/>
<circle cx="451.54" cy="949.11" r="1.15"/>
<circle cx="448.46" cy="951.51" r="1.15"/>
<circle cx="450.00" cy="947.51" r="1.15"/>
<rect x="455.39" y="855.17" width="2.6" height="2.6"/>
<rect x="457.00" y="875.13" width="2.6" height="2.6"/>
<rect x="458.61" y="883.12" width="2.6" height="2.6"/>
<rect x="455.39" y="895.10" width="2.6" height="2.6"/>
<rect x="457.00" y="899.09" width="2.6" height="2.6"/>
<rect x="458.61" y="900.69" width="2.6" height="2.6"/>
<line x1="370.30" y1="835.88" x2="370.30" y2="956.92" stroke="#000" stroke-width="1.25"/>
<line x1="369.68" y1="956.30" x2="465.80" y2="956.30" stroke="#000" stroke-width="1.25"/>
<line x1="365.90" y1="836.50" x2="370.30" y2="836.50" stroke="#000" stroke-width="1.25"/>
<text x="364.20" y="839.81" font-size="9.2" font-weight="bold" text-anchor="end">15</text>
<line x1="365.90" y1="876.43" x2="370.30" y2="876.43" stroke="#000" stroke-width="1.25"/>
<text x="364.20" y="879.75" font-size="9.2" font-weight="bold" text-anchor="end">10</text>
<line x1="365.90" y1="916.37" x2="370.30" y2="916.37" stroke="#000" stroke-width="1.25"/>
<text x="364.20" y="919.68" font-size="9.2" font-weight="bold" text-anchor="end">5</text>
<line x1="365.90" y1="956.30" x2="370.30" y2="956.30" stroke="#000" stroke-width="1.25"/>
<text x="364.20" y="959.61" font-size="9.2" font-weight="bold" text-anchor="end">0</text>
<line x1="380.95" y1="956.30" x2="380.95" y2="960.70" stroke="#000" stroke-width="1.25"/>
<line x1="399.25" y1="956.30" x2="399.25" y2="960.70" stroke="#000" stroke-width="1.25"/>
<line x1="417.55" y1="956.30" x2="417.55" y2="960.70" stroke="#000" stroke-width="1.25"/>
<line x1="435.85" y1="956.30" x2="435.85" y2="960.70" stroke="#000" stroke-width="1.25"/>
<line x1="454.15" y1="956.30" x2="454.15" y2="960.70" stroke="#000" stroke-width="1.25"/>
<text x="380.95" y="970.40" font-size="8.8" font-weight="bold" text-anchor="middle">#1</text>
<text x="399.25" y="970.40" font-size="8.8" font-weight="bold" text-anchor="middle">#2</text>
<text x="417.55" y="970.40" font-size="8.8" font-weight="bold" text-anchor="middle">#3</text>
<text x="435.85" y="970.40" font-size="8.8" font-weight="bold" text-anchor="middle">#4</text>
<text x="454.15" y="970.40" font-size="8.8" font-weight="bold" text-anchor="middle">#5</text>
<text x="404.20" y="937.00" font-size="8.0" text-anchor="middle" fill="#262626">ns</text>
<text x="422.60" y="940.30" font-size="8.0" text-anchor="middle" fill="#262626">ns</text>
<text x="440.70" y="937.50" font-size="8.0" text-anchor="middle" fill="#262626">ns</text>
<text x="385.90" y="871.50" font-size="6" text-anchor="middle">**</text>
<text x="459.50" y="854.40" font-size="6" text-anchor="middle">*</text>
<text x="337.80" y="896.00" font-size="7.8" font-weight="bold" text-anchor="middle" transform="rotate(-90 337.80 896.00)" textLength="117.40" lengthAdjust="spacingAndGlyphs">Relative expression of RNAs</text>
<text x="348.30" y="896.00" font-size="7.8" font-weight="bold" text-anchor="middle" transform="rotate(-90 348.30 896.00)" textLength="95.50" lengthAdjust="spacingAndGlyphs">(anti-Hornerin/anti-IgG)</text>
<rect x="375.40" y="837.70" width="13.10" height="4.20" fill="#808285"/>
<rect x="375.40" y="848.20" width="13.10" height="4.20" fill="#e64646"/>
<text x="395.00" y="842.60" font-size="8.3" fill="#333">anti-IgG</text>
<text x="395.00" y="853.00" font-size="8.3" fill="#333">anti-Hornerin</text>
<text x="497.60" y="811.00" font-size="16.5" font-weight="bold">l</text>
<text x="551.00" y="865.00" font-size="9.6" font-weight="bold" transform="rotate(-45 551.00 865.00)">Input</text>
<text x="581.00" y="864.60" font-size="9.6" font-weight="bold" transform="rotate(-45 581.00 864.60)">NC probe</text>
<text x="609.80" y="857.80" font-size="9.6" font-weight="bold" transform="rotate(-45 609.80 857.80)">#5 circIPP2A2</text>
<text x="619.30" y="865.30" font-size="9.6" font-weight="bold" transform="rotate(-45 619.30 865.30)">sequence probe</text>
<clipPath id="cp11"><rect x="540.50" y="867.80" width="104.70" height="27.90"/></clipPath>
<rect x="540.50" y="867.80" width="104.70" height="27.90" fill="#f3f3f3"/>
<g clip-path="url(#cp11)">
<rect x="539.00" y="865.00" width="30.00" height="34.00" rx="1.50" fill="#111" opacity="0.27" filter="url(#b2)"/>
<rect x="544.00" y="878.50" width="25.00" height="4.40" rx="2.20" fill="#111" opacity="0.9" filter="url(#b1)"/>
<rect x="562.50" y="878.90" width="6.00" height="4.60" rx="2.30" fill="#111" opacity="0.6" filter="url(#b1)"/>
<rect x="544.50" y="886.00" width="24.00" height="5.00" rx="2.50" fill="#111" opacity="0.22" filter="url(#b2)"/>
<rect x="579.00" y="883.10" width="24.00" height="2.40" rx="1.20" fill="#111" opacity="0.26" filter="url(#b1)"/>
<rect x="578.00" y="883.00" width="26.00" height="10.00" rx="5.00" fill="#111" opacity="0.05" filter="url(#b2)"/>
<rect x="611.00" y="865.00" width="35.00" height="34.00" rx="1.50" fill="#111" opacity="0.27" filter="url(#b2)"/>
<rect x="611.50" y="881.10" width="30.00" height="3.40" rx="1.70" fill="#111" opacity="0.55" filter="url(#b1)"/>
</g>
<rect x="540.50" y="867.80" width="104.70" height="27.90" fill="none" stroke="#111" stroke-width="1.4"/>
<line x1="540.50" y1="899.90" x2="645.20" y2="899.90" stroke="#8c8c8c" stroke-width="1.4"/>
<text x="592.80" y="911.20" font-size="9.6" font-weight="bold" text-anchor="middle">HL-7702</text>
<clipPath id="cp12"><rect x="540.50" y="922.30" width="104.70" height="28.40"/></clipPath>
<rect x="540.50" y="922.30" width="104.70" height="28.40" fill="#f3f3f3"/>
<g clip-path="url(#cp12)">
<rect x="539.00" y="919.00" width="30.00" height="34.00" rx="1.50" fill="#111" opacity="0.27" filter="url(#b2)"/>
<rect x="544.00" y="935.00" width="26.00" height="4.60" rx="2.30" fill="#111" opacity="0.9" filter="url(#b1)"/>
<rect x="582.00" y="937.60" width="20.00" height="2.40" rx="1.20" fill="#111" opacity="0.25" filter="url(#b1)"/>
<rect x="613.50" y="919.00" width="33.00" height="34.00" rx="1.50" fill="#111" opacity="0.3" filter="url(#b2)"/>
<rect x="615.50" y="933.70" width="28.00" height="6.00" rx="3.00" fill="#111" opacity="0.97" filter="url(#b1)"/>
</g>
<rect x="540.50" y="922.30" width="104.70" height="28.40" fill="none" stroke="#111" stroke-width="1.4"/>
<line x1="540.50" y1="954.70" x2="645.20" y2="954.70" stroke="#8c8c8c" stroke-width="1.4"/>
<text x="592.80" y="968.70" font-size="9.4" font-weight="bold" text-anchor="middle">HCCLM3</text>
<text x="537.30" y="884.30" font-size="9.5" font-weight="bold" text-anchor="end">Hornerin</text>
<text x="537.30" y="939.00" font-size="9.5" font-weight="bold" text-anchor="end">Hornerin</text>
<text x="650.60" y="884.40" font-size="9.5" font-weight="bold">100kDa</text>
<text x="650.60" y="939.10" font-size="9.5" font-weight="bold">100kDa</text>
</svg>
</body></html>
